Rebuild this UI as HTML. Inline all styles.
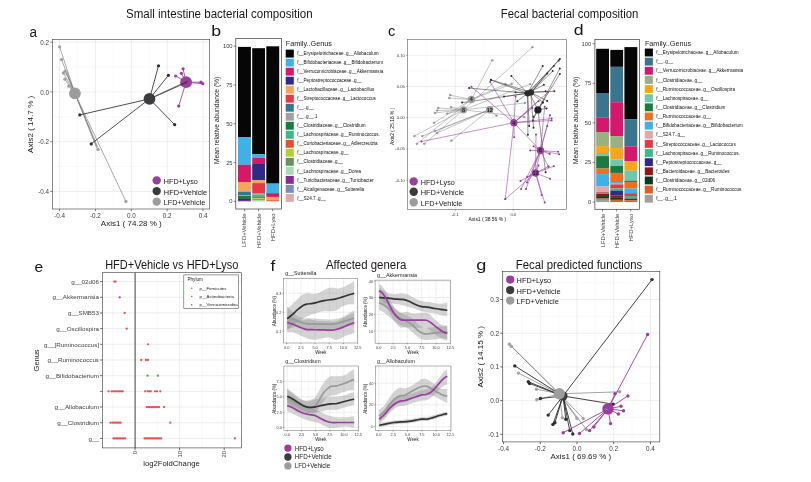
<!DOCTYPE html>
<html lang="en"><head><meta charset="utf-8"><title>Figure</title>
<style>html,body{margin:0;padding:0;background:#fff;}svg{display:block;}text{font-family:"Liberation Sans",Arial,sans-serif;}</style></head>
<body>
<svg width="811" height="482" viewBox="0 0 811 482" font-family="'Liberation Sans', Arial, sans-serif">
<rect x="0.00" y="0.00" width="811.00" height="482.00" fill="#ffffff"/>
<text x="126.00" y="17.50" font-size="12" fill="#1a1617" textLength="186.60" lengthAdjust="spacingAndGlyphs">Small intestine bacterial composition</text>
<text x="500.80" y="17.50" font-size="12" fill="#1a1617" textLength="137.60" lengthAdjust="spacingAndGlyphs">Fecal bacterial composition</text>
<text x="105.20" y="268.60" font-size="12" fill="#1a1617" textLength="133.20" lengthAdjust="spacingAndGlyphs">HFD+Vehicle vs HFD+Lyso</text>
<text x="325.90" y="269.00" font-size="12" fill="#1a1617" textLength="80.40" lengthAdjust="spacingAndGlyphs">Affected genera</text>
<text x="515.80" y="268.50" font-size="12" fill="#1a1617" textLength="126.40" lengthAdjust="spacingAndGlyphs">Fecal predicted functions</text>
<text transform="translate(29.60 37.00) scale(0.87 1)" font-size="15.5" fill="#1a1617">a</text>
<text transform="translate(211.20 36.30) scale(1.14 1)" font-size="15.5" fill="#1a1617">b</text>
<text transform="translate(388.00 36.00) scale(0.95 1)" font-size="15.5" fill="#1a1617">c</text>
<text transform="translate(573.80 34.90) scale(1.14 1)" font-size="15.5" fill="#1a1617">d</text>
<text transform="translate(34.50 272.00) scale(1.0 1)" font-size="15.5" fill="#1a1617">e</text>
<text transform="translate(270.40 271.00) scale(1.1 1)" font-size="15.5" fill="#1a1617">f</text>
<text transform="translate(476.30 269.50) scale(1.17 1)" font-size="15.5" fill="#1a1617">g</text>
<rect x="52.40" y="39.40" width="157.30" height="169.60" fill="#ffffff"/>
<line x1="77.48" y1="39.40" x2="77.48" y2="209.00" stroke="#efefef" stroke-width="0.4"/>
<line x1="113.36" y1="39.40" x2="113.36" y2="209.00" stroke="#efefef" stroke-width="0.4"/>
<line x1="149.24" y1="39.40" x2="149.24" y2="209.00" stroke="#efefef" stroke-width="0.4"/>
<line x1="185.12" y1="39.40" x2="185.12" y2="209.00" stroke="#efefef" stroke-width="0.4"/>
<line x1="52.40" y1="67.00" x2="209.70" y2="67.00" stroke="#efefef" stroke-width="0.4"/>
<line x1="52.40" y1="116.80" x2="209.70" y2="116.80" stroke="#efefef" stroke-width="0.4"/>
<line x1="52.40" y1="166.60" x2="209.70" y2="166.60" stroke="#efefef" stroke-width="0.4"/>
<line x1="59.54" y1="39.40" x2="59.54" y2="209.00" stroke="#e3e3e3" stroke-width="0.6"/>
<line x1="95.42" y1="39.40" x2="95.42" y2="209.00" stroke="#e3e3e3" stroke-width="0.6"/>
<line x1="131.30" y1="39.40" x2="131.30" y2="209.00" stroke="#e3e3e3" stroke-width="0.6"/>
<line x1="167.18" y1="39.40" x2="167.18" y2="209.00" stroke="#e3e3e3" stroke-width="0.6"/>
<line x1="203.06" y1="39.40" x2="203.06" y2="209.00" stroke="#e3e3e3" stroke-width="0.6"/>
<line x1="52.40" y1="42.10" x2="209.70" y2="42.10" stroke="#e3e3e3" stroke-width="0.6"/>
<line x1="52.40" y1="91.90" x2="209.70" y2="91.90" stroke="#e3e3e3" stroke-width="0.6"/>
<line x1="52.40" y1="141.70" x2="209.70" y2="141.70" stroke="#e3e3e3" stroke-width="0.6"/>
<line x1="52.40" y1="191.50" x2="209.70" y2="191.50" stroke="#e3e3e3" stroke-width="0.6"/>
<g stroke-linecap="round">
<line x1="74.90" y1="93.30" x2="59.60" y2="46.80" stroke="#7a7a7a" stroke-width="0.65"/>
<line x1="74.90" y1="93.30" x2="61.50" y2="59.60" stroke="#7a7a7a" stroke-width="0.65"/>
<line x1="74.90" y1="93.30" x2="65.20" y2="71.10" stroke="#7a7a7a" stroke-width="0.65"/>
<line x1="74.90" y1="93.30" x2="63.40" y2="73.00" stroke="#7a7a7a" stroke-width="0.65"/>
<line x1="74.90" y1="93.30" x2="67.20" y2="73.90" stroke="#7a7a7a" stroke-width="0.65"/>
<line x1="74.90" y1="93.30" x2="64.90" y2="79.20" stroke="#7a7a7a" stroke-width="0.65"/>
<line x1="74.90" y1="93.30" x2="68.70" y2="86.10" stroke="#7a7a7a" stroke-width="0.65"/>
<line x1="74.90" y1="93.30" x2="98.00" y2="149.40" stroke="#7a7a7a" stroke-width="0.65"/>
<line x1="74.90" y1="93.30" x2="125.90" y2="201.40" stroke="#7a7a7a" stroke-width="0.65"/>
<line x1="74.90" y1="93.30" x2="96.50" y2="147.50" stroke="#7a7a7a" stroke-width="0.65"/>
<line x1="74.90" y1="93.30" x2="97.20" y2="146.00" stroke="#7a7a7a" stroke-width="0.65"/>
<circle cx="59.60" cy="46.80" r="1.65" fill="#a0a0a0"/>
<circle cx="61.50" cy="59.60" r="1.65" fill="#a0a0a0"/>
<circle cx="65.20" cy="71.10" r="1.65" fill="#a0a0a0"/>
<circle cx="63.40" cy="73.00" r="1.65" fill="#a0a0a0"/>
<circle cx="67.20" cy="73.90" r="1.65" fill="#a0a0a0"/>
<circle cx="64.90" cy="79.20" r="1.65" fill="#a0a0a0"/>
<circle cx="68.70" cy="86.10" r="1.65" fill="#a0a0a0"/>
<circle cx="98.00" cy="149.40" r="1.65" fill="#a0a0a0"/>
<circle cx="125.90" cy="201.40" r="1.65" fill="#a0a0a0"/>
<line x1="149.50" y1="98.90" x2="158.50" y2="65.80" stroke="#2e2e30" stroke-width="0.85"/>
<line x1="149.50" y1="98.90" x2="168.40" y2="75.30" stroke="#2e2e30" stroke-width="0.85"/>
<line x1="149.50" y1="98.90" x2="79.80" y2="114.90" stroke="#2e2e30" stroke-width="0.85"/>
<line x1="149.50" y1="98.90" x2="174.70" y2="124.70" stroke="#2e2e30" stroke-width="0.85"/>
<line x1="149.50" y1="98.90" x2="91.20" y2="143.90" stroke="#2e2e30" stroke-width="0.85"/>
<circle cx="158.50" cy="65.80" r="1.6" fill="#2e2e30"/>
<circle cx="168.40" cy="75.30" r="1.6" fill="#2e2e30"/>
<circle cx="79.80" cy="114.90" r="1.6" fill="#2e2e30"/>
<circle cx="174.70" cy="124.70" r="1.6" fill="#2e2e30"/>
<circle cx="91.20" cy="143.90" r="1.6" fill="#2e2e30"/>
<line x1="186.10" y1="82.20" x2="183.10" y2="68.80" stroke="#9a3d9f" stroke-width="0.85"/>
<line x1="186.10" y1="82.20" x2="175.70" y2="76.00" stroke="#9a3d9f" stroke-width="0.85"/>
<line x1="186.10" y1="82.20" x2="181.40" y2="73.30" stroke="#9a3d9f" stroke-width="0.85"/>
<line x1="186.10" y1="82.20" x2="201.00" y2="82.20" stroke="#9a3d9f" stroke-width="0.85"/>
<line x1="186.10" y1="82.20" x2="202.80" y2="83.70" stroke="#9a3d9f" stroke-width="0.85"/>
<line x1="186.10" y1="82.20" x2="178.70" y2="106.10" stroke="#9a3d9f" stroke-width="0.85"/>
<circle cx="183.10" cy="68.80" r="1.6" fill="#9a3d9f"/>
<circle cx="175.70" cy="76.00" r="1.6" fill="#9a3d9f"/>
<circle cx="181.40" cy="73.30" r="1.6" fill="#9a3d9f"/>
<circle cx="201.00" cy="82.20" r="1.6" fill="#9a3d9f"/>
<circle cx="202.80" cy="83.70" r="1.6" fill="#9a3d9f"/>
<circle cx="178.70" cy="106.10" r="1.6" fill="#9a3d9f"/>
</g>
<circle cx="74.90" cy="93.30" r="5.9" fill="#9c9c9c"/>
<circle cx="186.10" cy="82.20" r="5.9" fill="#9a3d9f"/>
<line x1="149.50" y1="98.90" x2="187.90" y2="80.90" stroke="#2e2e30" stroke-width="0.7"/>
<line x1="149.50" y1="98.90" x2="187.20" y2="82.40" stroke="#2e2e30" stroke-width="0.7"/>
<circle cx="149.50" cy="98.90" r="5.9" fill="#3b3b3d"/>
<rect x="52.40" y="39.40" width="157.30" height="169.60" fill="none" stroke="#3a3a3a" stroke-width="0.6"/>
<line x1="59.54" y1="209.00" x2="59.54" y2="211.20" stroke="#333" stroke-width="0.6"/>
<text x="59.54" y="218.20" font-size="6.3" fill="#3c3c3c" text-anchor="middle">-0.4</text>
<line x1="95.42" y1="209.00" x2="95.42" y2="211.20" stroke="#333" stroke-width="0.6"/>
<text x="95.42" y="218.20" font-size="6.3" fill="#3c3c3c" text-anchor="middle">-0.2</text>
<line x1="131.30" y1="209.00" x2="131.30" y2="211.20" stroke="#333" stroke-width="0.6"/>
<text x="131.30" y="218.20" font-size="6.3" fill="#3c3c3c" text-anchor="middle">0.0</text>
<line x1="167.18" y1="209.00" x2="167.18" y2="211.20" stroke="#333" stroke-width="0.6"/>
<text x="167.18" y="218.20" font-size="6.3" fill="#3c3c3c" text-anchor="middle">0.2</text>
<line x1="203.06" y1="209.00" x2="203.06" y2="211.20" stroke="#333" stroke-width="0.6"/>
<text x="203.06" y="218.20" font-size="6.3" fill="#3c3c3c" text-anchor="middle">0.4</text>
<line x1="50.20" y1="42.10" x2="52.40" y2="42.10" stroke="#333" stroke-width="0.6"/>
<text x="49.00" y="44.70" font-size="6.3" fill="#3c3c3c" text-anchor="end">0.2</text>
<line x1="50.20" y1="91.90" x2="52.40" y2="91.90" stroke="#333" stroke-width="0.6"/>
<text x="49.00" y="94.50" font-size="6.3" fill="#3c3c3c" text-anchor="end">0.0</text>
<line x1="50.20" y1="141.70" x2="52.40" y2="141.70" stroke="#333" stroke-width="0.6"/>
<text x="49.00" y="144.30" font-size="6.3" fill="#3c3c3c" text-anchor="end">-0.2</text>
<line x1="50.20" y1="191.50" x2="52.40" y2="191.50" stroke="#333" stroke-width="0.6"/>
<text x="49.00" y="194.10" font-size="6.3" fill="#3c3c3c" text-anchor="end">-0.4</text>
<text x="131.30" y="226.10" font-size="8.0" fill="#1a1a1a" text-anchor="middle" textLength="61.00" lengthAdjust="spacingAndGlyphs">Axis1 ( 74.28 % )</text>
<text x="33.50" y="124.30" font-size="8.0" fill="#1a1a1a" text-anchor="middle" textLength="57.20" lengthAdjust="spacingAndGlyphs" transform="rotate(-90 33.50 124.30)">Axis2 ( 14.7 % )</text>
<circle cx="156.70" cy="180.40" r="4.2" fill="#9a3d9f"/>
<text x="163.80" y="183.80" font-size="7.7" fill="#1a1617" textLength="34.00" lengthAdjust="spacingAndGlyphs">HFD+Lyso</text>
<circle cx="156.70" cy="191.10" r="4.2" fill="#3b3b3d"/>
<text x="163.80" y="194.50" font-size="7.7" fill="#1a1617" textLength="43.30" lengthAdjust="spacingAndGlyphs">HFD+Vehicle</text>
<circle cx="156.70" cy="201.60" r="4.2" fill="#9c9c9c"/>
<text x="163.80" y="205.00" font-size="7.7" fill="#1a1617" textLength="41.50" lengthAdjust="spacingAndGlyphs">LFD+Vehicle</text>
<rect x="235.80" y="38.60" width="45.80" height="170.40" fill="#fff"/>
<rect x="238.00" y="46.90" width="12.90" height="90.15" fill="#060606"/>
<rect x="238.00" y="137.00" width="12.90" height="27.75" fill="#41b0e4"/>
<rect x="238.00" y="164.70" width="12.90" height="17.35" fill="#d4186c"/>
<rect x="238.00" y="182.00" width="12.90" height="9.75" fill="#f9a45c"/>
<rect x="238.00" y="191.70" width="12.90" height="3.45" fill="#3a7590"/>
<rect x="238.00" y="195.10" width="12.90" height="0.95" fill="#a0a0a0"/>
<rect x="238.00" y="196.00" width="12.90" height="2.95" fill="#1b7a3e"/>
<rect x="238.00" y="198.90" width="12.90" height="1.05" fill="#0a3a1e"/>
<rect x="238.00" y="199.90" width="12.90" height="1.15" fill="#8a2a8e"/>
<rect x="238.00" y="201.00" width="12.90" height="0.45" fill="#7a8cc0"/>
<rect x="252.20" y="48.20" width="12.80" height="106.05" fill="#060606"/>
<rect x="252.20" y="154.20" width="12.80" height="3.55" fill="#41b0e4"/>
<rect x="252.20" y="157.70" width="12.80" height="6.35" fill="#d4186c"/>
<rect x="252.20" y="164.00" width="12.80" height="16.35" fill="#2e2a85"/>
<rect x="252.20" y="180.30" width="12.80" height="2.85" fill="#f9a45c"/>
<rect x="252.20" y="183.10" width="12.80" height="10.55" fill="#e63946"/>
<rect x="252.20" y="193.60" width="12.80" height="0.85" fill="#a0a0a0"/>
<rect x="252.20" y="194.40" width="12.80" height="2.55" fill="#3cb98c"/>
<rect x="252.20" y="196.90" width="12.80" height="1.35" fill="#e8502a"/>
<rect x="252.20" y="198.20" width="12.80" height="1.05" fill="#b5cf2f"/>
<rect x="252.20" y="199.20" width="12.80" height="1.25" fill="#6a9060"/>
<rect x="252.20" y="200.40" width="12.80" height="1.05" fill="#a8dcb4"/>
<rect x="266.30" y="46.30" width="12.90" height="137.35" fill="#060606"/>
<rect x="266.30" y="183.60" width="12.90" height="9.65" fill="#41b0e4"/>
<rect x="266.30" y="193.20" width="12.90" height="3.75" fill="#d4186c"/>
<rect x="266.30" y="196.90" width="12.90" height="3.35" fill="#f9a45c"/>
<rect x="266.30" y="200.20" width="12.90" height="0.75" fill="#e63946"/>
<rect x="266.30" y="200.90" width="12.90" height="0.55" fill="#b5cf2f"/>
<rect x="235.80" y="38.60" width="45.80" height="170.40" fill="none" stroke="#3a3a3a" stroke-width="0.7"/>
<line x1="233.60" y1="201.40" x2="235.80" y2="201.40" stroke="#333" stroke-width="0.6"/>
<text x="232.60" y="203.45" font-size="5.8" fill="#3c3c3c" text-anchor="end">0</text>
<line x1="233.60" y1="162.58" x2="235.80" y2="162.58" stroke="#333" stroke-width="0.6"/>
<text x="232.60" y="164.63" font-size="5.8" fill="#3c3c3c" text-anchor="end">25</text>
<line x1="233.60" y1="123.75" x2="235.80" y2="123.75" stroke="#333" stroke-width="0.6"/>
<text x="232.60" y="125.80" font-size="5.8" fill="#3c3c3c" text-anchor="end">50</text>
<line x1="233.60" y1="84.93" x2="235.80" y2="84.93" stroke="#333" stroke-width="0.6"/>
<text x="232.60" y="86.98" font-size="5.8" fill="#3c3c3c" text-anchor="end">75</text>
<line x1="233.60" y1="46.10" x2="235.80" y2="46.10" stroke="#333" stroke-width="0.6"/>
<text x="232.60" y="48.15" font-size="5.8" fill="#3c3c3c" text-anchor="end">100</text>
<text x="219.30" y="120.40" font-size="6.8" fill="#1a1a1a" text-anchor="middle" textLength="87.40" lengthAdjust="spacingAndGlyphs" transform="rotate(-90 219.30 120.40)">Mean relative abundance (%)</text>
<line x1="244.40" y1="209.00" x2="244.40" y2="211.20" stroke="#333" stroke-width="0.6"/>
<text x="246.50" y="213.40" font-size="5.9" fill="#3c3c3c" text-anchor="end" transform="rotate(-90 246.50 213.40)">LFD+Vehicle</text>
<line x1="258.60" y1="209.00" x2="258.60" y2="211.20" stroke="#333" stroke-width="0.6"/>
<text x="260.70" y="213.40" font-size="5.9" fill="#3c3c3c" text-anchor="end" transform="rotate(-90 260.70 213.40)">HFD+Vehicle</text>
<line x1="272.70" y1="209.00" x2="272.70" y2="211.20" stroke="#333" stroke-width="0.6"/>
<text x="274.80" y="213.40" font-size="5.9" fill="#3c3c3c" text-anchor="end" transform="rotate(-90 274.80 213.40)">HFD+Lyso</text>
<text x="285.70" y="46.00" font-size="7.6" fill="#1a1617" textLength="46.30" lengthAdjust="spacingAndGlyphs">Family..Genus</text>
<rect x="285.70" y="49.65" width="8.10" height="7.90" fill="#060606"/>
<text x="297.20" y="55.25" font-size="4.59" fill="#0c0c0c">f__Erysipelotrichaceae..g__Allobaculum</text>
<rect x="285.70" y="58.67" width="8.10" height="7.90" fill="#41b0e4"/>
<text x="297.20" y="64.27" font-size="4.59" fill="#0c0c0c">f__Bifidobacteriaceae..g__Bifidobacterium</text>
<rect x="285.70" y="67.69" width="8.10" height="7.90" fill="#d4186c"/>
<text x="297.20" y="73.29" font-size="4.59" fill="#0c0c0c">f__Verrucomicrobiaceae..g__Akkermansia</text>
<rect x="285.70" y="76.71" width="8.10" height="7.90" fill="#2e2a85"/>
<text x="297.20" y="82.31" font-size="4.59" fill="#0c0c0c">f__Peptostreptococcaceae..g__</text>
<rect x="285.70" y="85.73" width="8.10" height="7.90" fill="#f9a45c"/>
<text x="297.20" y="91.33" font-size="4.59" fill="#0c0c0c">f__Lactobacillaceae..g__Lactobacillus</text>
<rect x="285.70" y="94.75" width="8.10" height="7.90" fill="#e63946"/>
<text x="297.20" y="100.35" font-size="4.59" fill="#0c0c0c">f__Streptococcaceae..g__Lactococcus</text>
<rect x="285.70" y="103.77" width="8.10" height="7.90" fill="#3a7590"/>
<text x="297.20" y="109.37" font-size="4.59" fill="#0c0c0c">f__..g__</text>
<rect x="285.70" y="112.79" width="8.10" height="7.90" fill="#a0a0a0"/>
<text x="297.20" y="118.39" font-size="4.59" fill="#0c0c0c">f__..g__.1</text>
<rect x="285.70" y="121.81" width="8.10" height="7.90" fill="#1b7a3e"/>
<text x="297.20" y="127.41" font-size="4.59" fill="#0c0c0c">f__Clostridiaceae..g__Clostridium</text>
<rect x="285.70" y="130.83" width="8.10" height="7.90" fill="#3cb98c"/>
<text x="297.20" y="136.43" font-size="4.59" fill="#0c0c0c">f__Lachnospiraceae..g__Ruminococcus.</text>
<rect x="285.70" y="139.85" width="8.10" height="7.90" fill="#e8502a"/>
<text x="297.20" y="145.45" font-size="4.59" fill="#0c0c0c">f__Coriobacteriaceae..g__Adlercreutzia</text>
<rect x="285.70" y="148.87" width="8.10" height="7.90" fill="#b5cf2f"/>
<text x="297.20" y="154.47" font-size="4.59" fill="#0c0c0c">f__Lachnospiraceae..g__</text>
<rect x="285.70" y="157.89" width="8.10" height="7.90" fill="#6a9060"/>
<text x="297.20" y="163.49" font-size="4.59" fill="#0c0c0c">f__Clostridiaceae..g__</text>
<rect x="285.70" y="166.91" width="8.10" height="7.90" fill="#a8dcb4"/>
<text x="297.20" y="172.51" font-size="4.59" fill="#0c0c0c">f__Lachnospiraceae..g__Dorea</text>
<rect x="285.70" y="175.93" width="8.10" height="7.90" fill="#8a2a8e"/>
<text x="297.20" y="181.53" font-size="4.59" fill="#0c0c0c">f__Turicibacteraceae..g__Turicibacter</text>
<rect x="285.70" y="184.95" width="8.10" height="7.90" fill="#7a8cc0"/>
<text x="297.20" y="190.55" font-size="4.59" fill="#0c0c0c">f__Alcaligenaceae..g__Sutterella</text>
<rect x="285.70" y="193.97" width="8.10" height="7.90" fill="#e0a8a8"/>
<text x="297.20" y="199.57" font-size="4.59" fill="#0c0c0c">f__S24.7..g__</text>
<rect x="594.90" y="39.60" width="44.50" height="169.70" fill="#fff"/>
<rect x="596.20" y="48.80" width="12.80" height="44.25" fill="#060606"/>
<rect x="596.20" y="93.00" width="12.80" height="24.75" fill="#3a7590"/>
<rect x="596.20" y="117.70" width="12.80" height="14.35" fill="#d4186c"/>
<rect x="596.20" y="132.00" width="12.80" height="14.15" fill="#9bb07e"/>
<rect x="596.20" y="146.10" width="12.80" height="6.95" fill="#f9a51a"/>
<rect x="596.20" y="153.00" width="12.80" height="3.15" fill="#6fc8ac"/>
<rect x="596.20" y="156.10" width="12.80" height="12.45" fill="#1b7a3e"/>
<rect x="596.20" y="168.50" width="12.80" height="5.65" fill="#f07020"/>
<rect x="596.20" y="174.10" width="12.80" height="12.45" fill="#41b0e4"/>
<rect x="596.20" y="186.50" width="12.80" height="5.55" fill="#e0a8a8"/>
<rect x="596.20" y="192.00" width="12.80" height="0.85" fill="#e63946"/>
<rect x="596.20" y="192.80" width="12.80" height="1.25" fill="#3cb98c"/>
<rect x="596.20" y="194.00" width="12.80" height="2.15" fill="#8a1a1a"/>
<rect x="596.20" y="196.10" width="12.80" height="2.45" fill="#0a3a1e"/>
<rect x="596.20" y="198.50" width="12.80" height="1.35" fill="#d8602a"/>
<rect x="596.20" y="199.80" width="12.80" height="2.25" fill="#a0a0a0"/>
<rect x="610.30" y="49.90" width="12.80" height="16.95" fill="#060606"/>
<rect x="610.30" y="66.80" width="12.80" height="35.45" fill="#3a7590"/>
<rect x="610.30" y="102.20" width="12.80" height="33.95" fill="#d4186c"/>
<rect x="610.30" y="136.10" width="12.80" height="12.05" fill="#9bb07e"/>
<rect x="610.30" y="148.10" width="12.80" height="11.35" fill="#f9a51a"/>
<rect x="610.30" y="159.40" width="12.80" height="6.65" fill="#6fc8ac"/>
<rect x="610.30" y="166.00" width="12.80" height="6.95" fill="#1b7a3e"/>
<rect x="610.30" y="172.90" width="12.80" height="9.15" fill="#f07020"/>
<rect x="610.30" y="182.00" width="12.80" height="1.75" fill="#41b0e4"/>
<rect x="610.30" y="183.70" width="12.80" height="0.75" fill="#e0a8a8"/>
<rect x="610.30" y="184.40" width="12.80" height="4.15" fill="#e63946"/>
<rect x="610.30" y="188.50" width="12.80" height="2.25" fill="#3cb98c"/>
<rect x="610.30" y="190.70" width="12.80" height="4.95" fill="#2e2a85"/>
<rect x="610.30" y="195.60" width="12.80" height="2.25" fill="#8a1a1a"/>
<rect x="610.30" y="197.80" width="12.80" height="2.05" fill="#0a3a1e"/>
<rect x="610.30" y="199.80" width="12.80" height="2.25" fill="#d8602a"/>
<rect x="624.40" y="47.10" width="12.90" height="72.35" fill="#060606"/>
<rect x="624.40" y="119.40" width="12.90" height="27.05" fill="#3a7590"/>
<rect x="624.40" y="146.40" width="12.90" height="14.85" fill="#d4186c"/>
<rect x="624.40" y="161.20" width="12.90" height="9.55" fill="#f9a51a"/>
<rect x="624.40" y="170.70" width="12.90" height="10.05" fill="#6fc8ac"/>
<rect x="624.40" y="180.70" width="12.90" height="1.25" fill="#1b7a3e"/>
<rect x="624.40" y="181.90" width="12.90" height="6.65" fill="#f07020"/>
<rect x="624.40" y="188.50" width="12.90" height="4.75" fill="#41b0e4"/>
<rect x="624.40" y="193.20" width="12.90" height="2.85" fill="#e63946"/>
<rect x="624.40" y="196.00" width="12.90" height="2.65" fill="#3cb98c"/>
<rect x="624.40" y="198.60" width="12.90" height="1.75" fill="#8a1a1a"/>
<rect x="624.40" y="200.30" width="12.90" height="1.75" fill="#d8602a"/>
<rect x="594.90" y="39.60" width="44.50" height="169.70" fill="none" stroke="#3a3a3a" stroke-width="0.7"/>
<line x1="592.70" y1="202.00" x2="594.90" y2="202.00" stroke="#333" stroke-width="0.6"/>
<text x="591.20" y="204.05" font-size="5.8" fill="#3c3c3c" text-anchor="end">0</text>
<line x1="592.70" y1="162.43" x2="594.90" y2="162.43" stroke="#333" stroke-width="0.6"/>
<text x="591.20" y="164.48" font-size="5.8" fill="#3c3c3c" text-anchor="end">25</text>
<line x1="592.70" y1="122.85" x2="594.90" y2="122.85" stroke="#333" stroke-width="0.6"/>
<text x="591.20" y="124.90" font-size="5.8" fill="#3c3c3c" text-anchor="end">50</text>
<line x1="592.70" y1="83.28" x2="594.90" y2="83.28" stroke="#333" stroke-width="0.6"/>
<text x="591.20" y="85.33" font-size="5.8" fill="#3c3c3c" text-anchor="end">75</text>
<line x1="592.70" y1="43.70" x2="594.90" y2="43.70" stroke="#333" stroke-width="0.6"/>
<text x="591.20" y="45.75" font-size="5.8" fill="#3c3c3c" text-anchor="end">100</text>
<text x="578.20" y="120.40" font-size="6.8" fill="#1a1a1a" text-anchor="middle" textLength="87.40" lengthAdjust="spacingAndGlyphs" transform="rotate(-90 578.20 120.40)">Mean relative abundance (%)</text>
<line x1="602.50" y1="209.30" x2="602.50" y2="211.50" stroke="#333" stroke-width="0.6"/>
<text x="604.60" y="213.70" font-size="5.9" fill="#3c3c3c" text-anchor="end" transform="rotate(-90 604.60 213.70)">LFD+Vehicle</text>
<line x1="616.60" y1="209.30" x2="616.60" y2="211.50" stroke="#333" stroke-width="0.6"/>
<text x="618.70" y="213.70" font-size="5.9" fill="#3c3c3c" text-anchor="end" transform="rotate(-90 618.70 213.70)">HFD+Vehicle</text>
<line x1="630.80" y1="209.30" x2="630.80" y2="211.50" stroke="#333" stroke-width="0.6"/>
<text x="632.90" y="213.70" font-size="5.9" fill="#3c3c3c" text-anchor="end" transform="rotate(-90 632.90 213.70)">HFD+Lyso</text>
<text x="644.90" y="46.20" font-size="7.6" fill="#1a1617" textLength="46.30" lengthAdjust="spacingAndGlyphs">Family..Genus</text>
<rect x="644.80" y="48.55" width="8.10" height="7.90" fill="#060606"/>
<text x="656.30" y="54.17" font-size="4.64" fill="#0c0c0c">f__Erysipelotrichaceae..g__Allobaculum</text>
<rect x="644.80" y="57.69" width="8.10" height="7.90" fill="#3a7590"/>
<text x="656.30" y="63.31" font-size="4.64" fill="#0c0c0c">f__..g__</text>
<rect x="644.80" y="66.83" width="8.10" height="7.90" fill="#d4186c"/>
<text x="656.30" y="72.45" font-size="4.64" fill="#0c0c0c">f__Verrucomicrobiaceae..g__Akkermansia</text>
<rect x="644.80" y="75.97" width="8.10" height="7.90" fill="#9bb07e"/>
<text x="656.30" y="81.59" font-size="4.64" fill="#0c0c0c">f__Clostridiaceae..g__</text>
<rect x="644.80" y="85.11" width="8.10" height="7.90" fill="#f9a51a"/>
<text x="656.30" y="90.73" font-size="4.64" fill="#0c0c0c">f__Ruminococcaceae..g__Oscillospira</text>
<rect x="644.80" y="94.25" width="8.10" height="7.90" fill="#6fc8ac"/>
<text x="656.30" y="99.87" font-size="4.64" fill="#0c0c0c">f__Lachnospiraceae..g__</text>
<rect x="644.80" y="103.39" width="8.10" height="7.90" fill="#1b7a3e"/>
<text x="656.30" y="109.01" font-size="4.64" fill="#0c0c0c">f__Clostridiaceae..g__Clostridium</text>
<rect x="644.80" y="112.53" width="8.10" height="7.90" fill="#f07020"/>
<text x="656.30" y="118.15" font-size="4.64" fill="#0c0c0c">f__Ruminococcaceae..g__</text>
<rect x="644.80" y="121.67" width="8.10" height="7.90" fill="#41b0e4"/>
<text x="656.30" y="127.29" font-size="4.64" fill="#0c0c0c">f__Bifidobacteriaceae..g__Bifidobacterium</text>
<rect x="644.80" y="130.81" width="8.10" height="7.90" fill="#e0a8a8"/>
<text x="656.30" y="136.43" font-size="4.64" fill="#0c0c0c">f__S24.7..g__</text>
<rect x="644.80" y="139.95" width="8.10" height="7.90" fill="#e63946"/>
<text x="656.30" y="145.57" font-size="4.64" fill="#0c0c0c">f__Streptococcaceae..g__Lactococcus</text>
<rect x="644.80" y="149.09" width="8.10" height="7.90" fill="#3cb98c"/>
<text x="656.30" y="154.71" font-size="4.64" fill="#0c0c0c">f__Lachnospiraceae..g__Ruminococcus.</text>
<rect x="644.80" y="158.23" width="8.10" height="7.90" fill="#2e2a85"/>
<text x="656.30" y="163.85" font-size="4.64" fill="#0c0c0c">f__Peptostreptococcaceae..g__</text>
<rect x="644.80" y="167.37" width="8.10" height="7.90" fill="#8a1a1a"/>
<text x="656.30" y="172.99" font-size="4.64" fill="#0c0c0c">f__Bacteroidaceae..g__Bacteroides</text>
<rect x="644.80" y="176.51" width="8.10" height="7.90" fill="#0a3a1e"/>
<text x="656.30" y="182.13" font-size="4.64" fill="#0c0c0c">f__Clostridiaceae..g__02d06</text>
<rect x="644.80" y="185.65" width="8.10" height="7.90" fill="#d8602a"/>
<text x="656.30" y="191.27" font-size="4.64" fill="#0c0c0c">f__Ruminococcaceae..g__Ruminococcus</text>
<rect x="644.80" y="194.79" width="8.10" height="7.90" fill="#a0a0a0"/>
<text x="656.30" y="200.41" font-size="4.64" fill="#0c0c0c">f__..g__.1</text>
<rect x="407.50" y="39.30" width="158.90" height="170.30" fill="#ffffff"/>
<line x1="426.30" y1="39.30" x2="426.30" y2="209.60" stroke="#efefef" stroke-width="0.4"/>
<line x1="484.30" y1="39.30" x2="484.30" y2="209.60" stroke="#efefef" stroke-width="0.4"/>
<line x1="542.30" y1="39.30" x2="542.30" y2="209.60" stroke="#efefef" stroke-width="0.4"/>
<line x1="407.50" y1="70.90" x2="566.40" y2="70.90" stroke="#efefef" stroke-width="0.4"/>
<line x1="407.50" y1="102.10" x2="566.40" y2="102.10" stroke="#efefef" stroke-width="0.4"/>
<line x1="407.50" y1="133.30" x2="566.40" y2="133.30" stroke="#efefef" stroke-width="0.4"/>
<line x1="407.50" y1="164.50" x2="566.40" y2="164.50" stroke="#efefef" stroke-width="0.4"/>
<line x1="407.50" y1="195.70" x2="566.40" y2="195.70" stroke="#efefef" stroke-width="0.4"/>
<line x1="455.30" y1="39.30" x2="455.30" y2="209.60" stroke="#e3e3e3" stroke-width="0.6"/>
<line x1="513.30" y1="39.30" x2="513.30" y2="209.60" stroke="#e3e3e3" stroke-width="0.6"/>
<line x1="407.50" y1="55.30" x2="566.40" y2="55.30" stroke="#e3e3e3" stroke-width="0.6"/>
<line x1="407.50" y1="86.50" x2="566.40" y2="86.50" stroke="#e3e3e3" stroke-width="0.6"/>
<line x1="407.50" y1="117.70" x2="566.40" y2="117.70" stroke="#e3e3e3" stroke-width="0.6"/>
<line x1="407.50" y1="148.90" x2="566.40" y2="148.90" stroke="#e3e3e3" stroke-width="0.6"/>
<line x1="407.50" y1="180.10" x2="566.40" y2="180.10" stroke="#e3e3e3" stroke-width="0.6"/>
<g stroke-linecap="round">
<line x1="471.40" y1="99.50" x2="450.10" y2="95.10" stroke="#7d7d7d" stroke-width="0.45"/>
<line x1="471.40" y1="99.50" x2="449.10" y2="98.00" stroke="#7d7d7d" stroke-width="0.45"/>
<line x1="471.40" y1="99.50" x2="492.10" y2="60.30" stroke="#7d7d7d" stroke-width="0.45"/>
<line x1="471.40" y1="99.50" x2="433.90" y2="122.80" stroke="#7d7d7d" stroke-width="0.45"/>
<line x1="471.40" y1="99.50" x2="416.80" y2="143.80" stroke="#7d7d7d" stroke-width="0.45"/>
<line x1="471.40" y1="99.50" x2="505.50" y2="84.20" stroke="#7d7d7d" stroke-width="0.45"/>
<line x1="471.40" y1="99.50" x2="511.50" y2="83.90" stroke="#7d7d7d" stroke-width="0.45"/>
<line x1="463.50" y1="109.80" x2="438.10" y2="108.00" stroke="#7d7d7d" stroke-width="0.45"/>
<line x1="463.50" y1="109.80" x2="437.10" y2="110.50" stroke="#7d7d7d" stroke-width="0.45"/>
<line x1="463.50" y1="109.80" x2="434.90" y2="112.90" stroke="#7d7d7d" stroke-width="0.45"/>
<line x1="463.50" y1="109.80" x2="450.80" y2="107.10" stroke="#7d7d7d" stroke-width="0.45"/>
<line x1="463.50" y1="109.80" x2="447.10" y2="113.60" stroke="#7d7d7d" stroke-width="0.45"/>
<line x1="463.50" y1="109.80" x2="414.30" y2="136.10" stroke="#7d7d7d" stroke-width="0.45"/>
<line x1="463.50" y1="109.80" x2="424.30" y2="143.80" stroke="#7d7d7d" stroke-width="0.45"/>
<line x1="463.50" y1="109.80" x2="532.30" y2="47.20" stroke="#7d7d7d" stroke-width="0.45"/>
<line x1="463.50" y1="109.80" x2="530.00" y2="84.20" stroke="#7d7d7d" stroke-width="0.45"/>
<line x1="463.50" y1="109.80" x2="524.80" y2="103.00" stroke="#7d7d7d" stroke-width="0.45"/>
<line x1="463.50" y1="109.80" x2="524.20" y2="117.10" stroke="#7d7d7d" stroke-width="0.45"/>
<line x1="489.70" y1="109.60" x2="422.20" y2="136.10" stroke="#7d7d7d" stroke-width="0.45"/>
<line x1="489.70" y1="109.60" x2="434.90" y2="131.10" stroke="#7d7d7d" stroke-width="0.45"/>
<line x1="489.70" y1="109.60" x2="437.10" y2="133.00" stroke="#7d7d7d" stroke-width="0.45"/>
<line x1="489.70" y1="109.60" x2="451.30" y2="140.70" stroke="#7d7d7d" stroke-width="0.45"/>
<line x1="489.70" y1="109.60" x2="496.40" y2="115.70" stroke="#7d7d7d" stroke-width="0.45"/>
<circle cx="450.10" cy="95.10" r="0.9" fill="#b5b5b5" stroke="#6f6f6f" stroke-width="0.4"/>
<circle cx="449.10" cy="98.00" r="0.9" fill="#b5b5b5" stroke="#6f6f6f" stroke-width="0.4"/>
<circle cx="492.10" cy="60.30" r="0.9" fill="#b5b5b5" stroke="#6f6f6f" stroke-width="0.4"/>
<circle cx="433.90" cy="122.80" r="0.9" fill="#b5b5b5" stroke="#6f6f6f" stroke-width="0.4"/>
<circle cx="416.80" cy="143.80" r="0.9" fill="#b5b5b5" stroke="#6f6f6f" stroke-width="0.4"/>
<circle cx="505.50" cy="84.20" r="0.9" fill="#b5b5b5" stroke="#6f6f6f" stroke-width="0.4"/>
<circle cx="511.50" cy="83.90" r="0.9" fill="#b5b5b5" stroke="#6f6f6f" stroke-width="0.4"/>
<circle cx="438.10" cy="108.00" r="0.9" fill="#b5b5b5" stroke="#6f6f6f" stroke-width="0.4"/>
<circle cx="437.10" cy="110.50" r="0.9" fill="#b5b5b5" stroke="#6f6f6f" stroke-width="0.4"/>
<circle cx="434.90" cy="112.90" r="0.9" fill="#b5b5b5" stroke="#6f6f6f" stroke-width="0.4"/>
<circle cx="450.80" cy="107.10" r="0.9" fill="#b5b5b5" stroke="#6f6f6f" stroke-width="0.4"/>
<circle cx="447.10" cy="113.60" r="0.9" fill="#b5b5b5" stroke="#6f6f6f" stroke-width="0.4"/>
<circle cx="414.30" cy="136.10" r="0.9" fill="#b5b5b5" stroke="#6f6f6f" stroke-width="0.4"/>
<circle cx="424.30" cy="143.80" r="0.9" fill="#b5b5b5" stroke="#6f6f6f" stroke-width="0.4"/>
<circle cx="532.30" cy="47.20" r="0.9" fill="#b5b5b5" stroke="#6f6f6f" stroke-width="0.4"/>
<circle cx="530.00" cy="84.20" r="0.9" fill="#b5b5b5" stroke="#6f6f6f" stroke-width="0.4"/>
<circle cx="524.80" cy="103.00" r="0.9" fill="#b5b5b5" stroke="#6f6f6f" stroke-width="0.4"/>
<circle cx="524.20" cy="117.10" r="0.9" fill="#b5b5b5" stroke="#6f6f6f" stroke-width="0.4"/>
<circle cx="422.20" cy="136.10" r="0.9" fill="#b5b5b5" stroke="#6f6f6f" stroke-width="0.4"/>
<circle cx="434.90" cy="131.10" r="0.9" fill="#b5b5b5" stroke="#6f6f6f" stroke-width="0.4"/>
<circle cx="437.10" cy="133.00" r="0.9" fill="#b5b5b5" stroke="#6f6f6f" stroke-width="0.4"/>
<circle cx="451.30" cy="140.70" r="0.9" fill="#b5b5b5" stroke="#6f6f6f" stroke-width="0.4"/>
<circle cx="496.40" cy="115.70" r="0.9" fill="#b5b5b5" stroke="#6f6f6f" stroke-width="0.4"/>
<line x1="527.60" y1="93.30" x2="559.80" y2="59.00" stroke="#2a2a2c" stroke-width="0.5"/>
<line x1="527.60" y1="93.30" x2="542.70" y2="66.10" stroke="#2a2a2c" stroke-width="0.5"/>
<line x1="527.60" y1="93.30" x2="553.80" y2="66.10" stroke="#2a2a2c" stroke-width="0.5"/>
<line x1="527.60" y1="93.30" x2="511.40" y2="76.10" stroke="#2a2a2c" stroke-width="0.5"/>
<line x1="527.60" y1="93.30" x2="491.00" y2="80.10" stroke="#2a2a2c" stroke-width="0.5"/>
<line x1="527.60" y1="93.30" x2="543.90" y2="84.80" stroke="#2a2a2c" stroke-width="0.5"/>
<line x1="527.60" y1="93.30" x2="504.00" y2="96.60" stroke="#2a2a2c" stroke-width="0.5"/>
<line x1="527.60" y1="93.30" x2="469.10" y2="88.10" stroke="#2a2a2c" stroke-width="0.5"/>
<line x1="527.60" y1="93.30" x2="462.10" y2="102.60" stroke="#2a2a2c" stroke-width="0.5"/>
<line x1="527.60" y1="93.30" x2="517.30" y2="101.20" stroke="#2a2a2c" stroke-width="0.5"/>
<line x1="527.60" y1="93.30" x2="529.20" y2="126.10" stroke="#2a2a2c" stroke-width="0.5"/>
<line x1="527.60" y1="93.30" x2="527.90" y2="134.80" stroke="#2a2a2c" stroke-width="0.5"/>
<line x1="530.90" y1="92.40" x2="552.70" y2="71.10" stroke="#2a2a2c" stroke-width="0.5"/>
<line x1="530.90" y1="92.40" x2="547.20" y2="73.60" stroke="#2a2a2c" stroke-width="0.5"/>
<line x1="530.90" y1="92.40" x2="554.30" y2="91.30" stroke="#2a2a2c" stroke-width="0.5"/>
<line x1="530.90" y1="92.40" x2="545.70" y2="91.30" stroke="#2a2a2c" stroke-width="0.5"/>
<line x1="530.90" y1="92.40" x2="515.50" y2="92.30" stroke="#2a2a2c" stroke-width="0.5"/>
<line x1="530.90" y1="92.40" x2="490.90" y2="79.70" stroke="#2a2a2c" stroke-width="0.5"/>
<line x1="530.90" y1="92.40" x2="547.20" y2="100.90" stroke="#2a2a2c" stroke-width="0.5"/>
<line x1="530.90" y1="92.40" x2="542.90" y2="102.40" stroke="#2a2a2c" stroke-width="0.5"/>
<line x1="530.90" y1="92.40" x2="533.50" y2="127.70" stroke="#2a2a2c" stroke-width="0.5"/>
<line x1="530.90" y1="92.40" x2="558.60" y2="60.50" stroke="#2a2a2c" stroke-width="0.5"/>
<line x1="537.90" y1="109.90" x2="559.80" y2="68.60" stroke="#2a2a2c" stroke-width="0.5"/>
<line x1="537.90" y1="109.90" x2="559.80" y2="73.90" stroke="#2a2a2c" stroke-width="0.5"/>
<line x1="537.90" y1="109.90" x2="546.60" y2="108.40" stroke="#2a2a2c" stroke-width="0.5"/>
<line x1="537.90" y1="109.90" x2="532.90" y2="120.50" stroke="#2a2a2c" stroke-width="0.5"/>
<line x1="537.90" y1="109.90" x2="545.60" y2="172.30" stroke="#2a2a2c" stroke-width="0.5"/>
<line x1="537.90" y1="109.90" x2="533.50" y2="116.70" stroke="#2a2a2c" stroke-width="0.5"/>
<line x1="537.90" y1="109.90" x2="542.90" y2="102.40" stroke="#2a2a2c" stroke-width="0.5"/>
<line x1="537.90" y1="109.90" x2="529.50" y2="93.00" stroke="#2a2a2c" stroke-width="0.5"/>
<circle cx="559.80" cy="59.00" r="1.0" fill="#2a2a2c"/>
<circle cx="542.70" cy="66.10" r="1.0" fill="#2a2a2c"/>
<circle cx="553.80" cy="66.10" r="1.0" fill="#2a2a2c"/>
<circle cx="511.40" cy="76.10" r="1.0" fill="#2a2a2c"/>
<circle cx="491.00" cy="80.10" r="1.0" fill="#2a2a2c"/>
<circle cx="543.90" cy="84.80" r="1.0" fill="#2a2a2c"/>
<circle cx="504.00" cy="96.60" r="1.0" fill="#2a2a2c"/>
<circle cx="469.10" cy="88.10" r="1.0" fill="#2a2a2c"/>
<circle cx="462.10" cy="102.60" r="1.0" fill="#2a2a2c"/>
<circle cx="517.30" cy="101.20" r="1.0" fill="#2a2a2c"/>
<circle cx="529.20" cy="126.10" r="1.0" fill="#2a2a2c"/>
<circle cx="527.90" cy="134.80" r="1.0" fill="#2a2a2c"/>
<circle cx="552.70" cy="71.10" r="1.0" fill="#2a2a2c"/>
<circle cx="547.20" cy="73.60" r="1.0" fill="#2a2a2c"/>
<circle cx="554.30" cy="91.30" r="1.0" fill="#2a2a2c"/>
<circle cx="545.70" cy="91.30" r="1.0" fill="#2a2a2c"/>
<circle cx="515.50" cy="92.30" r="1.0" fill="#2a2a2c"/>
<circle cx="490.90" cy="79.70" r="1.0" fill="#2a2a2c"/>
<circle cx="547.20" cy="100.90" r="1.0" fill="#2a2a2c"/>
<circle cx="542.90" cy="102.40" r="1.0" fill="#2a2a2c"/>
<circle cx="533.50" cy="127.70" r="1.0" fill="#2a2a2c"/>
<circle cx="558.60" cy="60.50" r="1.0" fill="#2a2a2c"/>
<circle cx="559.80" cy="68.60" r="1.0" fill="#2a2a2c"/>
<circle cx="559.80" cy="73.90" r="1.0" fill="#2a2a2c"/>
<circle cx="546.60" cy="108.40" r="1.0" fill="#2a2a2c"/>
<circle cx="532.90" cy="120.50" r="1.0" fill="#2a2a2c"/>
<circle cx="545.60" cy="172.30" r="1.0" fill="#2a2a2c"/>
<circle cx="533.50" cy="116.70" r="1.0" fill="#2a2a2c"/>
<circle cx="542.90" cy="102.40" r="1.0" fill="#2a2a2c"/>
<line x1="513.90" y1="122.70" x2="471.40" y2="86.80" stroke="#8f3a97" stroke-width="0.55"/>
<line x1="513.90" y1="122.70" x2="490.20" y2="82.10" stroke="#8f3a97" stroke-width="0.55"/>
<line x1="513.90" y1="122.70" x2="421.40" y2="141.50" stroke="#8f3a97" stroke-width="0.55"/>
<line x1="513.90" y1="122.70" x2="515.50" y2="96.60" stroke="#8f3a97" stroke-width="0.55"/>
<line x1="513.90" y1="122.70" x2="514.20" y2="137.30" stroke="#8f3a97" stroke-width="0.55"/>
<line x1="513.90" y1="122.70" x2="505.30" y2="199.00" stroke="#8f3a97" stroke-width="0.55"/>
<line x1="513.90" y1="122.70" x2="548.20" y2="92.10" stroke="#8f3a97" stroke-width="0.55"/>
<line x1="513.90" y1="122.70" x2="538.50" y2="101.20" stroke="#8f3a97" stroke-width="0.55"/>
<line x1="513.90" y1="122.70" x2="551.60" y2="118.60" stroke="#8f3a97" stroke-width="0.55"/>
<line x1="513.90" y1="122.70" x2="551.60" y2="120.50" stroke="#8f3a97" stroke-width="0.55"/>
<line x1="513.90" y1="122.70" x2="540.40" y2="150.50" stroke="#8f3a97" stroke-width="0.55"/>
<line x1="513.90" y1="122.70" x2="532.30" y2="108.00" stroke="#8f3a97" stroke-width="0.55"/>
<line x1="540.40" y1="150.50" x2="530.20" y2="150.50" stroke="#8f3a97" stroke-width="0.55"/>
<line x1="540.40" y1="150.50" x2="533.50" y2="146.20" stroke="#8f3a97" stroke-width="0.55"/>
<line x1="540.40" y1="150.50" x2="549.70" y2="153.90" stroke="#8f3a97" stroke-width="0.55"/>
<line x1="540.40" y1="150.50" x2="558.10" y2="151.80" stroke="#8f3a97" stroke-width="0.55"/>
<line x1="540.40" y1="150.50" x2="559.10" y2="154.30" stroke="#8f3a97" stroke-width="0.55"/>
<line x1="540.40" y1="150.50" x2="550.00" y2="115.20" stroke="#8f3a97" stroke-width="0.55"/>
<line x1="540.40" y1="150.50" x2="547.20" y2="126.10" stroke="#8f3a97" stroke-width="0.55"/>
<line x1="540.40" y1="150.50" x2="544.70" y2="106.80" stroke="#8f3a97" stroke-width="0.55"/>
<line x1="540.40" y1="150.50" x2="548.50" y2="166.70" stroke="#8f3a97" stroke-width="0.55"/>
<line x1="540.40" y1="150.50" x2="521.10" y2="188.90" stroke="#8f3a97" stroke-width="0.55"/>
<line x1="540.40" y1="150.50" x2="526.10" y2="188.90" stroke="#8f3a97" stroke-width="0.55"/>
<line x1="540.40" y1="150.50" x2="527.10" y2="182.40" stroke="#8f3a97" stroke-width="0.55"/>
<line x1="540.40" y1="150.50" x2="535.60" y2="173.00" stroke="#8f3a97" stroke-width="0.55"/>
<line x1="535.60" y1="173.00" x2="548.50" y2="166.50" stroke="#8f3a97" stroke-width="0.55"/>
<line x1="535.60" y1="173.00" x2="553.80" y2="166.20" stroke="#8f3a97" stroke-width="0.55"/>
<line x1="535.60" y1="173.00" x2="550.00" y2="178.70" stroke="#8f3a97" stroke-width="0.55"/>
<line x1="535.60" y1="173.00" x2="520.50" y2="180.90" stroke="#8f3a97" stroke-width="0.55"/>
<line x1="535.60" y1="173.00" x2="527.30" y2="176.80" stroke="#8f3a97" stroke-width="0.55"/>
<line x1="535.60" y1="173.00" x2="541.60" y2="194.90" stroke="#8f3a97" stroke-width="0.55"/>
<line x1="535.60" y1="173.00" x2="544.70" y2="202.60" stroke="#8f3a97" stroke-width="0.55"/>
<line x1="535.60" y1="173.00" x2="505.30" y2="199.00" stroke="#8f3a97" stroke-width="0.55"/>
<line x1="535.60" y1="173.00" x2="538.50" y2="165.50" stroke="#8f3a97" stroke-width="0.55"/>
<line x1="535.60" y1="173.00" x2="536.00" y2="134.40" stroke="#8f3a97" stroke-width="0.55"/>
<circle cx="471.40" cy="86.80" r="1.0" fill="#8f3a97"/>
<circle cx="490.20" cy="82.10" r="1.0" fill="#8f3a97"/>
<circle cx="421.40" cy="141.50" r="1.0" fill="#8f3a97"/>
<circle cx="515.50" cy="96.60" r="1.0" fill="#8f3a97"/>
<circle cx="514.20" cy="137.30" r="1.0" fill="#8f3a97"/>
<circle cx="505.30" cy="199.00" r="1.0" fill="#8f3a97"/>
<circle cx="548.20" cy="92.10" r="1.0" fill="#8f3a97"/>
<circle cx="538.50" cy="101.20" r="1.0" fill="#8f3a97"/>
<circle cx="551.60" cy="118.60" r="1.0" fill="#8f3a97"/>
<circle cx="551.60" cy="120.50" r="1.0" fill="#8f3a97"/>
<circle cx="532.30" cy="108.00" r="1.0" fill="#8f3a97"/>
<circle cx="530.20" cy="150.50" r="1.0" fill="#8f3a97"/>
<circle cx="533.50" cy="146.20" r="1.0" fill="#8f3a97"/>
<circle cx="549.70" cy="153.90" r="1.0" fill="#8f3a97"/>
<circle cx="558.10" cy="151.80" r="1.0" fill="#8f3a97"/>
<circle cx="559.10" cy="154.30" r="1.0" fill="#8f3a97"/>
<circle cx="550.00" cy="115.20" r="1.0" fill="#8f3a97"/>
<circle cx="547.20" cy="126.10" r="1.0" fill="#8f3a97"/>
<circle cx="544.70" cy="106.80" r="1.0" fill="#8f3a97"/>
<circle cx="548.50" cy="166.70" r="1.0" fill="#8f3a97"/>
<circle cx="521.10" cy="188.90" r="1.0" fill="#8f3a97"/>
<circle cx="526.10" cy="188.90" r="1.0" fill="#8f3a97"/>
<circle cx="527.10" cy="182.40" r="1.0" fill="#8f3a97"/>
<circle cx="548.50" cy="166.50" r="1.0" fill="#8f3a97"/>
<circle cx="553.80" cy="166.20" r="1.0" fill="#8f3a97"/>
<circle cx="550.00" cy="178.70" r="1.0" fill="#8f3a97"/>
<circle cx="520.50" cy="180.90" r="1.0" fill="#8f3a97"/>
<circle cx="527.30" cy="176.80" r="1.0" fill="#8f3a97"/>
<circle cx="541.60" cy="194.90" r="1.0" fill="#8f3a97"/>
<circle cx="544.70" cy="202.60" r="1.0" fill="#8f3a97"/>
<circle cx="505.30" cy="199.00" r="1.0" fill="#8f3a97"/>
<circle cx="538.50" cy="165.50" r="1.0" fill="#8f3a97"/>
<circle cx="536.00" cy="134.40" r="1.0" fill="#8f3a97"/>
</g>
<circle cx="471.40" cy="99.50" r="3.65" fill="#9c9c9c"/>
<text x="471.40" y="101.45" font-size="5.5" fill="#222" text-anchor="middle" font-weight="bold">4</text>
<circle cx="463.50" cy="109.80" r="3.65" fill="#9c9c9c"/>
<text x="463.50" y="111.75" font-size="5.5" fill="#222" text-anchor="middle" font-weight="bold">8</text>
<circle cx="489.70" cy="109.60" r="3.65" fill="#9c9c9c"/>
<text x="489.70" y="111.55" font-size="5.5" fill="#222" text-anchor="middle" font-weight="bold">12</text>
<circle cx="527.60" cy="93.30" r="3.1" fill="#2a2a2c"/>
<circle cx="530.90" cy="92.40" r="3.1" fill="#2a2a2c"/>
<circle cx="537.90" cy="109.90" r="3.65" fill="#2a2a2c"/>
<text x="537.90" y="111.85" font-size="5.5" fill="#111" text-anchor="middle" font-weight="bold">12</text>
<circle cx="513.90" cy="122.70" r="3.65" fill="#9a3d9f"/>
<text x="513.90" y="124.65" font-size="5.5" fill="#222" text-anchor="middle" font-weight="bold">4</text>
<circle cx="540.40" cy="150.50" r="3.65" fill="#9a3d9f"/>
<text x="540.40" y="152.45" font-size="5.5" fill="#222" text-anchor="middle" font-weight="bold">8</text>
<circle cx="535.60" cy="173.00" r="3.65" fill="#9a3d9f"/>
<text x="535.60" y="174.95" font-size="5.5" fill="#222" text-anchor="middle" font-weight="bold">12</text>
<rect x="407.50" y="39.30" width="158.90" height="170.30" fill="none" stroke="#5e5e5e" stroke-width="0.6"/>
<line x1="455.30" y1="209.60" x2="455.30" y2="210.90" stroke="#333" stroke-width="0.4"/>
<text x="455.30" y="215.70" font-size="4.2" fill="#3c3c3c" text-anchor="middle">-0.1</text>
<line x1="513.30" y1="209.60" x2="513.30" y2="210.90" stroke="#333" stroke-width="0.4"/>
<text x="513.30" y="215.70" font-size="4.2" fill="#3c3c3c" text-anchor="middle">0.0</text>
<line x1="406.20" y1="55.30" x2="407.50" y2="55.30" stroke="#333" stroke-width="0.4"/>
<text x="404.90" y="56.80" font-size="4.2" fill="#3c3c3c" text-anchor="end">0.10</text>
<line x1="406.20" y1="86.50" x2="407.50" y2="86.50" stroke="#333" stroke-width="0.4"/>
<text x="404.90" y="88.00" font-size="4.2" fill="#3c3c3c" text-anchor="end">0.05</text>
<line x1="406.20" y1="117.70" x2="407.50" y2="117.70" stroke="#333" stroke-width="0.4"/>
<text x="404.90" y="119.20" font-size="4.2" fill="#3c3c3c" text-anchor="end">0.00</text>
<line x1="406.20" y1="148.90" x2="407.50" y2="148.90" stroke="#333" stroke-width="0.4"/>
<text x="404.90" y="150.40" font-size="4.2" fill="#3c3c3c" text-anchor="end">-0.05</text>
<line x1="406.20" y1="180.10" x2="407.50" y2="180.10" stroke="#333" stroke-width="0.4"/>
<text x="404.90" y="181.60" font-size="4.2" fill="#3c3c3c" text-anchor="end">-0.10</text>
<text x="487.30" y="221.20" font-size="5.2" fill="#111" text-anchor="middle" textLength="37.50" lengthAdjust="spacingAndGlyphs">Axis1 ( 38.56 % )</text>
<text x="393.60" y="126.30" font-size="5.2" fill="#111" text-anchor="middle" textLength="37.50" lengthAdjust="spacingAndGlyphs" transform="rotate(-90 393.60 126.30)">Axis2 ( 25.18 % )</text>
<circle cx="413.70" cy="181.40" r="4.2" fill="#9a3d9f"/>
<text x="420.70" y="184.80" font-size="7.8" fill="#1a1617" textLength="34.20" lengthAdjust="spacingAndGlyphs">HFD+Lyso</text>
<circle cx="413.70" cy="191.80" r="4.2" fill="#3b3b3d"/>
<text x="420.70" y="195.20" font-size="7.8" fill="#1a1617" textLength="43.50" lengthAdjust="spacingAndGlyphs">HFD+Vehicle</text>
<circle cx="413.70" cy="202.20" r="4.2" fill="#9c9c9c"/>
<text x="420.70" y="205.60" font-size="7.8" fill="#1a1617" textLength="41.70" lengthAdjust="spacingAndGlyphs">LFD+Vehicle</text>
<rect x="102.40" y="272.70" width="138.90" height="175.20" fill="#ffffff"/>
<line x1="112.70" y1="272.70" x2="112.70" y2="447.90" stroke="#efefef" stroke-width="0.4"/>
<line x1="157.30" y1="272.70" x2="157.30" y2="447.90" stroke="#efefef" stroke-width="0.4"/>
<line x1="201.90" y1="272.70" x2="201.90" y2="447.90" stroke="#efefef" stroke-width="0.4"/>
<line x1="135.00" y1="272.70" x2="135.00" y2="447.90" stroke="#e3e3e3" stroke-width="0.6"/>
<line x1="179.60" y1="272.70" x2="179.60" y2="447.90" stroke="#e3e3e3" stroke-width="0.6"/>
<line x1="224.20" y1="272.70" x2="224.20" y2="447.90" stroke="#e3e3e3" stroke-width="0.6"/>
<line x1="102.40" y1="281.60" x2="241.30" y2="281.60" stroke="#e3e3e3" stroke-width="0.6"/>
<line x1="102.40" y1="297.28" x2="241.30" y2="297.28" stroke="#e3e3e3" stroke-width="0.6"/>
<line x1="102.40" y1="312.96" x2="241.30" y2="312.96" stroke="#e3e3e3" stroke-width="0.6"/>
<line x1="102.40" y1="328.64" x2="241.30" y2="328.64" stroke="#e3e3e3" stroke-width="0.6"/>
<line x1="102.40" y1="344.32" x2="241.30" y2="344.32" stroke="#e3e3e3" stroke-width="0.6"/>
<line x1="102.40" y1="360.00" x2="241.30" y2="360.00" stroke="#e3e3e3" stroke-width="0.6"/>
<line x1="102.40" y1="375.68" x2="241.30" y2="375.68" stroke="#e3e3e3" stroke-width="0.6"/>
<line x1="102.40" y1="391.36" x2="241.30" y2="391.36" stroke="#e3e3e3" stroke-width="0.6"/>
<line x1="102.40" y1="407.04" x2="241.30" y2="407.04" stroke="#e3e3e3" stroke-width="0.6"/>
<line x1="102.40" y1="422.72" x2="241.30" y2="422.72" stroke="#e3e3e3" stroke-width="0.6"/>
<line x1="102.40" y1="438.40" x2="241.30" y2="438.40" stroke="#e3e3e3" stroke-width="0.6"/>
<line x1="135.10" y1="272.70" x2="135.10" y2="447.90" stroke="#555" stroke-width="1.1"/>
<circle cx="114.30" cy="281.60" r="1.15" fill="#ea4f4f"/>
<circle cx="115.60" cy="281.60" r="1.15" fill="#ea4f4f"/>
<circle cx="124.70" cy="312.96" r="1.15" fill="#ea4f4f"/>
<circle cx="126.70" cy="328.64" r="1.15" fill="#ea4f4f"/>
<circle cx="148.10" cy="344.32" r="1.15" fill="#ea4f4f"/>
<circle cx="141.30" cy="360.00" r="1.15" fill="#ea4f4f"/>
<circle cx="146.00" cy="360.00" r="1.15" fill="#ea4f4f"/>
<circle cx="148.10" cy="360.00" r="1.15" fill="#ea4f4f"/>
<circle cx="108.50" cy="391.36" r="1.15" fill="#ea4f4f"/>
<circle cx="111.70" cy="391.36" r="1.15" fill="#ea4f4f"/>
<circle cx="113.30" cy="391.36" r="1.15" fill="#ea4f4f"/>
<circle cx="114.90" cy="391.36" r="1.15" fill="#ea4f4f"/>
<circle cx="116.50" cy="391.36" r="1.15" fill="#ea4f4f"/>
<circle cx="118.10" cy="391.36" r="1.15" fill="#ea4f4f"/>
<circle cx="119.70" cy="391.36" r="1.15" fill="#ea4f4f"/>
<circle cx="121.20" cy="391.36" r="1.15" fill="#ea4f4f"/>
<circle cx="122.70" cy="391.36" r="1.15" fill="#ea4f4f"/>
<circle cx="145.20" cy="391.36" r="1.15" fill="#ea4f4f"/>
<circle cx="147.80" cy="391.36" r="1.15" fill="#ea4f4f"/>
<circle cx="149.30" cy="391.36" r="1.15" fill="#ea4f4f"/>
<circle cx="150.80" cy="391.36" r="1.15" fill="#ea4f4f"/>
<circle cx="155.00" cy="391.36" r="1.15" fill="#ea4f4f"/>
<circle cx="157.00" cy="391.36" r="1.15" fill="#ea4f4f"/>
<circle cx="160.30" cy="391.36" r="1.15" fill="#ea4f4f"/>
<circle cx="146.70" cy="407.04" r="1.15" fill="#ea4f4f"/>
<circle cx="148.20" cy="407.04" r="1.15" fill="#ea4f4f"/>
<circle cx="149.80" cy="407.04" r="1.15" fill="#ea4f4f"/>
<circle cx="151.30" cy="407.04" r="1.15" fill="#ea4f4f"/>
<circle cx="152.90" cy="407.04" r="1.15" fill="#ea4f4f"/>
<circle cx="154.40" cy="407.04" r="1.15" fill="#ea4f4f"/>
<circle cx="156.00" cy="407.04" r="1.15" fill="#ea4f4f"/>
<circle cx="157.50" cy="407.04" r="1.15" fill="#ea4f4f"/>
<circle cx="159.10" cy="407.04" r="1.15" fill="#ea4f4f"/>
<circle cx="164.10" cy="407.04" r="1.15" fill="#ea4f4f"/>
<circle cx="110.60" cy="422.72" r="1.15" fill="#ea4f4f"/>
<circle cx="112.60" cy="422.72" r="1.15" fill="#ea4f4f"/>
<circle cx="114.20" cy="422.72" r="1.15" fill="#ea4f4f"/>
<circle cx="115.80" cy="422.72" r="1.15" fill="#ea4f4f"/>
<circle cx="117.40" cy="422.72" r="1.15" fill="#ea4f4f"/>
<circle cx="119.00" cy="422.72" r="1.15" fill="#ea4f4f"/>
<circle cx="120.60" cy="422.72" r="1.15" fill="#ea4f4f"/>
<circle cx="170.30" cy="422.72" r="1.15" fill="#ea4f4f"/>
<circle cx="113.50" cy="438.40" r="1.15" fill="#ea4f4f"/>
<circle cx="114.90" cy="438.40" r="1.15" fill="#ea4f4f"/>
<circle cx="116.40" cy="438.40" r="1.15" fill="#ea4f4f"/>
<circle cx="117.80" cy="438.40" r="1.15" fill="#ea4f4f"/>
<circle cx="119.30" cy="438.40" r="1.15" fill="#ea4f4f"/>
<circle cx="120.70" cy="438.40" r="1.15" fill="#ea4f4f"/>
<circle cx="122.20" cy="438.40" r="1.15" fill="#ea4f4f"/>
<circle cx="123.60" cy="438.40" r="1.15" fill="#ea4f4f"/>
<circle cx="125.10" cy="438.40" r="1.15" fill="#ea4f4f"/>
<circle cx="144.60" cy="438.40" r="1.15" fill="#ea4f4f"/>
<circle cx="146.10" cy="438.40" r="1.15" fill="#ea4f4f"/>
<circle cx="147.60" cy="438.40" r="1.15" fill="#ea4f4f"/>
<circle cx="149.10" cy="438.40" r="1.15" fill="#ea4f4f"/>
<circle cx="150.60" cy="438.40" r="1.15" fill="#ea4f4f"/>
<circle cx="152.10" cy="438.40" r="1.15" fill="#ea4f4f"/>
<circle cx="153.60" cy="438.40" r="1.15" fill="#ea4f4f"/>
<circle cx="155.10" cy="438.40" r="1.15" fill="#ea4f4f"/>
<circle cx="156.60" cy="438.40" r="1.15" fill="#ea4f4f"/>
<circle cx="158.10" cy="438.40" r="1.15" fill="#ea4f4f"/>
<circle cx="159.60" cy="438.40" r="1.15" fill="#ea4f4f"/>
<circle cx="161.20" cy="438.40" r="1.15" fill="#ea4f4f"/>
<circle cx="234.90" cy="438.40" r="1.15" fill="#ea4f4f"/>
<circle cx="119.70" cy="297.28" r="1.15" fill="#8a4fc7"/>
<circle cx="147.60" cy="375.68" r="1.15" fill="#55a630"/>
<circle cx="157.90" cy="375.68" r="1.15" fill="#55a630"/>
<rect x="102.40" y="272.70" width="138.90" height="175.20" fill="none" stroke="#3a3a3a" stroke-width="0.6"/>
<line x1="100.10" y1="281.60" x2="102.40" y2="281.60" stroke="#2a2a2a" stroke-width="0.7"/>
<text x="99.00" y="283.80" font-size="6.25" fill="#3c3c3c" text-anchor="end">g__02d06</text>
<line x1="100.10" y1="297.28" x2="102.40" y2="297.28" stroke="#2a2a2a" stroke-width="0.7"/>
<text x="99.00" y="299.48" font-size="6.25" fill="#3c3c3c" text-anchor="end">g__Akkermansia</text>
<line x1="100.10" y1="312.96" x2="102.40" y2="312.96" stroke="#2a2a2a" stroke-width="0.7"/>
<text x="99.00" y="315.16" font-size="6.25" fill="#3c3c3c" text-anchor="end">g__SMB53</text>
<line x1="100.10" y1="328.64" x2="102.40" y2="328.64" stroke="#2a2a2a" stroke-width="0.7"/>
<text x="99.00" y="330.84" font-size="6.25" fill="#3c3c3c" text-anchor="end">g__Oscillospira</text>
<line x1="100.10" y1="344.32" x2="102.40" y2="344.32" stroke="#2a2a2a" stroke-width="0.7"/>
<text x="99.00" y="346.52" font-size="6.25" fill="#3c3c3c" text-anchor="end">g__[Ruminococcus]</text>
<line x1="100.10" y1="360.00" x2="102.40" y2="360.00" stroke="#2a2a2a" stroke-width="0.7"/>
<text x="99.00" y="362.20" font-size="6.25" fill="#3c3c3c" text-anchor="end">g__Ruminococcus</text>
<line x1="100.10" y1="375.68" x2="102.40" y2="375.68" stroke="#2a2a2a" stroke-width="0.7"/>
<text x="99.00" y="377.88" font-size="6.25" fill="#3c3c3c" text-anchor="end">g__Bifidobacterium</text>
<line x1="100.10" y1="391.36" x2="102.40" y2="391.36" stroke="#2a2a2a" stroke-width="0.7"/>
<line x1="100.10" y1="407.04" x2="102.40" y2="407.04" stroke="#2a2a2a" stroke-width="0.7"/>
<text x="99.00" y="409.24" font-size="6.25" fill="#3c3c3c" text-anchor="end">g__Allobaculum</text>
<line x1="100.10" y1="422.72" x2="102.40" y2="422.72" stroke="#2a2a2a" stroke-width="0.7"/>
<text x="99.00" y="424.92" font-size="6.25" fill="#3c3c3c" text-anchor="end">g__Clostridium</text>
<line x1="100.10" y1="438.40" x2="102.40" y2="438.40" stroke="#2a2a2a" stroke-width="0.7"/>
<text x="99.00" y="440.60" font-size="6.25" fill="#3c3c3c" text-anchor="end">g__</text>
<line x1="135.00" y1="447.90" x2="135.00" y2="450.20" stroke="#2a2a2a" stroke-width="0.7"/>
<text x="137.05" y="451.10" font-size="5.8" fill="#3c3c3c" text-anchor="end" transform="rotate(-90 137.05 451.10)">0</text>
<line x1="179.60" y1="447.90" x2="179.60" y2="450.20" stroke="#2a2a2a" stroke-width="0.7"/>
<text x="181.65" y="451.10" font-size="5.8" fill="#3c3c3c" text-anchor="end" transform="rotate(-90 181.65 451.10)">10</text>
<line x1="224.20" y1="447.90" x2="224.20" y2="450.20" stroke="#2a2a2a" stroke-width="0.7"/>
<text x="226.25" y="451.10" font-size="5.8" fill="#3c3c3c" text-anchor="end" transform="rotate(-90 226.25 451.10)">20</text>
<text x="171.50" y="466.30" font-size="7.7" fill="#1a1a1a" text-anchor="middle" textLength="56.50" lengthAdjust="spacingAndGlyphs">log2FoldChange</text>
<text x="38.80" y="360.40" font-size="7.5" fill="#1a1a1a" text-anchor="middle" textLength="22.00" lengthAdjust="spacingAndGlyphs" transform="rotate(-90 38.80 360.40)">Genus</text>
<rect x="183.80" y="274.90" width="54.80" height="33.70" fill="#fff" stroke="#555" stroke-width="0.6"/>
<text x="187.40" y="281.30" font-size="4.9" fill="#1a1a1a" textLength="15.60" lengthAdjust="spacingAndGlyphs">Phylum</text>
<circle cx="191.70" cy="288.20" r="0.8" fill="#ea4f4f"/>
<text x="199.40" y="289.60" font-size="4.1" fill="#1a1a1a" textLength="27.04" lengthAdjust="spacingAndGlyphs">p__Firmicutes</text>
<circle cx="191.70" cy="296.50" r="0.8" fill="#55a630"/>
<text x="199.40" y="297.90" font-size="4.1" fill="#1a1a1a" textLength="34.47" lengthAdjust="spacingAndGlyphs">p__Actinobacteria</text>
<circle cx="191.70" cy="304.80" r="0.8" fill="#8a4fc7"/>
<text x="199.40" y="306.20" font-size="4.1" fill="#1a1a1a" textLength="38.30" lengthAdjust="spacingAndGlyphs">p__Verrucomicrobia</text>
<rect x="283.50" y="278.30" width="74.10" height="64.70" fill="#ffffff"/>
<line x1="293.80" y1="278.30" x2="293.80" y2="343.00" stroke="#efefef" stroke-width="0.4"/>
<line x1="308.00" y1="278.30" x2="308.00" y2="343.00" stroke="#efefef" stroke-width="0.4"/>
<line x1="322.20" y1="278.30" x2="322.20" y2="343.00" stroke="#efefef" stroke-width="0.4"/>
<line x1="336.40" y1="278.30" x2="336.40" y2="343.00" stroke="#efefef" stroke-width="0.4"/>
<line x1="350.60" y1="278.30" x2="350.60" y2="343.00" stroke="#efefef" stroke-width="0.4"/>
<line x1="283.50" y1="302.70" x2="357.60" y2="302.70" stroke="#efefef" stroke-width="0.4"/>
<line x1="283.50" y1="321.65" x2="357.60" y2="321.65" stroke="#efefef" stroke-width="0.4"/>
<line x1="286.70" y1="278.30" x2="286.70" y2="343.00" stroke="#e3e3e3" stroke-width="0.6"/>
<line x1="300.90" y1="278.30" x2="300.90" y2="343.00" stroke="#e3e3e3" stroke-width="0.6"/>
<line x1="315.10" y1="278.30" x2="315.10" y2="343.00" stroke="#e3e3e3" stroke-width="0.6"/>
<line x1="329.30" y1="278.30" x2="329.30" y2="343.00" stroke="#e3e3e3" stroke-width="0.6"/>
<line x1="343.50" y1="278.30" x2="343.50" y2="343.00" stroke="#e3e3e3" stroke-width="0.6"/>
<line x1="357.70" y1="278.30" x2="357.70" y2="343.00" stroke="#e3e3e3" stroke-width="0.6"/>
<line x1="283.50" y1="293.20" x2="357.60" y2="293.20" stroke="#e3e3e3" stroke-width="0.6"/>
<line x1="283.50" y1="312.20" x2="357.60" y2="312.20" stroke="#e3e3e3" stroke-width="0.6"/>
<line x1="283.50" y1="331.10" x2="357.60" y2="331.10" stroke="#e3e3e3" stroke-width="0.6"/>
<clipPath id="cpSut"><rect x="283.5" y="278.3" width="74.10000000000002" height="64.69999999999999"/></clipPath>
<g clip-path="url(#cpSut)">
<path d="M287.22,306.25C288.06,307.18 290.48,310.20 292.25,311.84C294.03,313.49 295.99,315.11 297.85,316.13C299.72,317.16 301.58,317.63 303.45,318.00C305.31,318.37 306.25,318.22 309.04,318.37C311.84,318.53 316.20,318.78 320.24,318.93C324.28,319.09 329.57,319.65 333.30,319.31C337.03,318.96 340.14,317.81 342.63,316.88C345.11,315.95 346.30,314.77 348.22,313.71C350.15,312.65 353.20,311.07 354.19,310.54L354.19,325.84C353.20,325.84 350.15,325.68 348.22,325.84C346.30,325.99 345.11,326.21 342.63,326.77C340.14,327.33 336.41,328.73 333.30,329.19C330.19,329.66 328.01,329.50 323.97,329.57C319.93,329.63 312.47,329.82 309.04,329.57C305.62,329.32 305.31,328.54 303.45,328.07C301.58,327.61 299.72,326.83 297.85,326.77C295.99,326.71 294.03,327.24 292.25,327.70C290.48,328.17 288.06,329.26 287.22,329.57Z" fill="#8f8f8f" fill-opacity="0.38"/>
<path d="M287.22,308.11C288.06,307.49 290.48,305.94 292.25,304.38C294.03,302.83 295.99,300.49 297.85,298.78C299.72,297.07 301.58,295.05 303.45,294.12C305.31,293.19 307.18,293.19 309.04,293.19C310.91,293.19 312.78,294.27 314.64,294.12C316.51,293.96 318.37,293.12 320.24,292.25C322.10,291.38 323.97,289.67 325.84,288.90C327.70,288.12 329.57,287.65 331.43,287.59C333.30,287.53 335.16,288.52 337.03,288.52C338.90,288.52 340.76,288.27 342.63,287.59C344.49,286.91 346.30,285.44 348.22,284.42C350.15,283.39 353.20,281.93 354.19,281.43L354.19,304.38C353.20,304.38 350.15,304.07 348.22,304.38C346.30,304.69 344.49,305.31 342.63,306.25C340.76,307.18 338.90,309.14 337.03,309.98C335.16,310.82 333.30,311.13 331.43,311.28C329.57,311.44 327.70,310.82 325.84,310.91C323.97,311.00 322.10,311.38 320.24,311.84C318.37,312.31 316.51,313.09 314.64,313.71C312.78,314.33 310.91,314.80 309.04,315.57C307.18,316.35 305.31,317.28 303.45,318.37C301.58,319.46 299.72,320.86 297.85,322.10C295.99,323.35 294.03,324.44 292.25,325.84C290.48,327.24 288.06,329.72 287.22,330.50Z" fill="#8f8f8f" fill-opacity="0.38"/>
<path d="M287.22,314.64C288.06,315.01 290.48,316.10 292.25,316.88C294.03,317.66 295.99,318.75 297.85,319.31C299.72,319.87 301.58,320.24 303.45,320.24C305.31,320.24 306.87,319.21 309.04,319.31C311.22,319.40 314.02,320.49 316.51,320.80C319.00,321.11 321.48,321.02 323.97,321.17C326.46,321.33 329.26,321.73 331.43,321.73C333.61,321.73 335.16,321.73 337.03,321.17C338.90,320.61 340.76,319.31 342.63,318.37C344.49,317.44 346.30,316.51 348.22,315.57C350.15,314.64 353.20,313.24 354.19,312.78L354.19,333.30C352.89,333.67 348.60,334.67 346.36,335.54C344.12,336.41 342.63,337.81 340.76,338.52C338.90,339.24 337.03,340.01 335.16,339.83C333.30,339.64 331.74,337.62 329.57,337.40C327.39,337.19 324.59,338.12 322.10,338.52C319.62,338.93 316.82,339.77 314.64,339.83C312.47,339.89 310.91,339.36 309.04,338.90C307.18,338.43 305.31,337.81 303.45,337.03C301.58,336.25 299.72,335.01 297.85,334.23C295.99,333.45 294.03,332.68 292.25,332.37C290.48,332.05 288.06,332.37 287.22,332.37Z" fill="#8f8f8f" fill-opacity="0.38"/>
<path d="M287.22,318.00C288.06,318.12 290.48,318.22 292.25,318.75C294.03,319.27 295.99,320.46 297.85,321.17C299.72,321.89 301.89,322.60 303.45,323.04C305.00,323.47 305.31,323.63 307.18,323.78C309.04,323.94 311.84,323.91 314.64,323.97C317.44,324.03 320.86,324.13 323.97,324.16C327.08,324.19 330.81,324.34 333.30,324.16C335.79,323.97 337.03,323.53 338.90,323.04C340.76,322.54 342.63,321.79 344.49,321.17C346.36,320.55 348.47,319.77 350.09,319.31C351.71,318.84 353.51,318.53 354.19,318.37" fill="none" stroke="#999999" stroke-width="1.7" stroke-linecap="butt"/>
<path d="M287.22,318.75C288.06,318.06 290.48,316.20 292.25,314.64C294.03,313.09 295.99,310.97 297.85,309.42C299.72,307.86 301.89,306.22 303.45,305.31C305.00,304.41 305.62,304.32 307.18,304.01C308.73,303.70 310.91,303.79 312.78,303.45C314.64,303.11 316.51,302.42 318.37,301.96C320.24,301.49 322.10,301.02 323.97,300.65C325.84,300.28 327.70,299.97 329.57,299.72C331.43,299.47 332.99,299.62 335.16,299.16C337.34,298.69 340.45,297.60 342.63,296.92C344.80,296.23 346.30,295.64 348.22,295.05C350.15,294.46 353.20,293.65 354.19,293.37" fill="none" stroke="#333335" stroke-width="1.7" stroke-linecap="butt"/>
<path d="M287.22,322.48C288.06,322.73 290.48,323.32 292.25,323.97C294.03,324.62 295.99,325.62 297.85,326.40C299.72,327.17 301.89,328.11 303.45,328.63C305.00,329.16 305.31,329.38 307.18,329.57C309.04,329.75 311.84,329.69 314.64,329.75C317.44,329.82 321.17,329.88 323.97,329.94C326.77,330.00 329.57,330.16 331.43,330.13C333.30,330.10 333.30,330.22 335.16,329.75C337.03,329.29 340.45,328.14 342.63,327.33C344.80,326.52 346.30,325.68 348.22,324.90C350.15,324.13 353.20,323.04 354.19,322.66" fill="none" stroke="#9a3d9f" stroke-width="1.7" stroke-linecap="butt"/>
</g>
<rect x="283.50" y="278.30" width="74.10" height="64.70" fill="none" stroke="#6a6a6a" stroke-width="0.5"/>
<text x="285.20" y="275.40" font-size="5.6" fill="#1a1a1a" textLength="31.30" lengthAdjust="spacingAndGlyphs">g__Sutterella</text>
<line x1="286.70" y1="343.00" x2="286.70" y2="344.20" stroke="#333" stroke-width="0.4"/>
<text x="286.70" y="348.80" font-size="3.9" fill="#3c3c3c" text-anchor="middle" textLength="5.42" lengthAdjust="spacingAndGlyphs">0.0</text>
<line x1="300.90" y1="343.00" x2="300.90" y2="344.20" stroke="#333" stroke-width="0.4"/>
<text x="300.90" y="348.80" font-size="3.9" fill="#3c3c3c" text-anchor="middle" textLength="5.42" lengthAdjust="spacingAndGlyphs">2.5</text>
<line x1="315.10" y1="343.00" x2="315.10" y2="344.20" stroke="#333" stroke-width="0.4"/>
<text x="315.10" y="348.80" font-size="3.9" fill="#3c3c3c" text-anchor="middle" textLength="5.42" lengthAdjust="spacingAndGlyphs">5.0</text>
<line x1="329.30" y1="343.00" x2="329.30" y2="344.20" stroke="#333" stroke-width="0.4"/>
<text x="329.30" y="348.80" font-size="3.9" fill="#3c3c3c" text-anchor="middle" textLength="5.42" lengthAdjust="spacingAndGlyphs">7.5</text>
<line x1="343.50" y1="343.00" x2="343.50" y2="344.20" stroke="#333" stroke-width="0.4"/>
<text x="343.50" y="348.80" font-size="3.9" fill="#3c3c3c" text-anchor="middle" textLength="7.59" lengthAdjust="spacingAndGlyphs">10.0</text>
<line x1="357.70" y1="343.00" x2="357.70" y2="344.20" stroke="#333" stroke-width="0.4"/>
<text x="357.70" y="348.80" font-size="3.9" fill="#3c3c3c" text-anchor="middle" textLength="7.59" lengthAdjust="spacingAndGlyphs">12.5</text>
<line x1="282.30" y1="293.20" x2="283.50" y2="293.20" stroke="#333" stroke-width="0.4"/>
<text x="281.50" y="294.60" font-size="3.9" fill="#3c3c3c" text-anchor="end" textLength="5.42" lengthAdjust="spacingAndGlyphs">0.3</text>
<line x1="282.30" y1="312.20" x2="283.50" y2="312.20" stroke="#333" stroke-width="0.4"/>
<text x="281.50" y="313.60" font-size="3.9" fill="#3c3c3c" text-anchor="end" textLength="5.42" lengthAdjust="spacingAndGlyphs">0.2</text>
<line x1="282.30" y1="331.10" x2="283.50" y2="331.10" stroke="#333" stroke-width="0.4"/>
<text x="281.50" y="332.50" font-size="3.9" fill="#3c3c3c" text-anchor="end" textLength="5.42" lengthAdjust="spacingAndGlyphs">0.1</text>
<text x="320.80" y="353.90" font-size="4.7" fill="#1a1a1a" text-anchor="middle" textLength="11.30" lengthAdjust="spacingAndGlyphs">Week</text>
<text x="276.00" y="311.15" font-size="4.5" fill="#1a1a1a" text-anchor="middle" textLength="30.00" lengthAdjust="spacingAndGlyphs" transform="rotate(-90 276.00 311.15)">Abundance (%)</text>
<rect x="375.10" y="280.10" width="75.50" height="63.10" fill="#ffffff"/>
<line x1="385.95" y1="280.10" x2="385.95" y2="343.20" stroke="#efefef" stroke-width="0.4"/>
<line x1="400.25" y1="280.10" x2="400.25" y2="343.20" stroke="#efefef" stroke-width="0.4"/>
<line x1="414.55" y1="280.10" x2="414.55" y2="343.20" stroke="#efefef" stroke-width="0.4"/>
<line x1="428.85" y1="280.10" x2="428.85" y2="343.20" stroke="#efefef" stroke-width="0.4"/>
<line x1="443.15" y1="280.10" x2="443.15" y2="343.20" stroke="#efefef" stroke-width="0.4"/>
<line x1="375.10" y1="289.30" x2="450.60" y2="289.30" stroke="#efefef" stroke-width="0.4"/>
<line x1="375.10" y1="305.90" x2="450.60" y2="305.90" stroke="#efefef" stroke-width="0.4"/>
<line x1="375.10" y1="322.70" x2="450.60" y2="322.70" stroke="#efefef" stroke-width="0.4"/>
<line x1="378.80" y1="280.10" x2="378.80" y2="343.20" stroke="#e3e3e3" stroke-width="0.6"/>
<line x1="393.10" y1="280.10" x2="393.10" y2="343.20" stroke="#e3e3e3" stroke-width="0.6"/>
<line x1="407.40" y1="280.10" x2="407.40" y2="343.20" stroke="#e3e3e3" stroke-width="0.6"/>
<line x1="421.70" y1="280.10" x2="421.70" y2="343.20" stroke="#e3e3e3" stroke-width="0.6"/>
<line x1="436.00" y1="280.10" x2="436.00" y2="343.20" stroke="#e3e3e3" stroke-width="0.6"/>
<line x1="450.30" y1="280.10" x2="450.30" y2="343.20" stroke="#e3e3e3" stroke-width="0.6"/>
<line x1="375.10" y1="281.10" x2="450.60" y2="281.10" stroke="#e3e3e3" stroke-width="0.6"/>
<line x1="375.10" y1="297.50" x2="450.60" y2="297.50" stroke="#e3e3e3" stroke-width="0.6"/>
<line x1="375.10" y1="314.30" x2="450.60" y2="314.30" stroke="#e3e3e3" stroke-width="0.6"/>
<line x1="375.10" y1="331.10" x2="450.60" y2="331.10" stroke="#e3e3e3" stroke-width="0.6"/>
<clipPath id="cpAkk"><rect x="375.1" y="280.1" width="75.5" height="63.099999999999966"/></clipPath>
<g clip-path="url(#cpAkk)">
<path d="M379.16,295.99C380.03,296.45 382.58,297.54 384.39,298.78C386.19,300.03 388.12,301.74 389.99,303.45C391.85,305.16 393.72,307.49 395.58,309.04C397.45,310.60 399.31,311.69 401.18,312.78C403.04,313.86 404.91,314.64 406.78,315.57C408.64,316.51 410.51,316.97 412.37,318.37C414.24,319.77 416.10,322.42 417.97,323.97C419.84,325.52 421.70,327.08 423.57,327.70C425.43,328.32 426.99,327.86 429.16,327.70C431.34,327.55 434.45,327.08 436.63,326.77C438.80,326.46 440.45,325.99 442.22,325.84C444.00,325.68 446.42,325.84 447.26,325.84L447.26,338.90C446.42,338.83 444.00,338.52 442.22,338.52C440.45,338.52 438.80,338.68 436.63,338.90C434.45,339.11 431.34,339.67 429.16,339.83C426.99,339.98 425.43,340.29 423.57,339.83C421.70,339.36 419.84,338.27 417.97,337.03C416.10,335.79 414.24,333.92 412.37,332.37C410.51,330.81 408.64,328.79 406.78,327.70C404.91,326.61 403.04,326.77 401.18,325.84C399.31,324.90 397.45,323.50 395.58,322.10C393.72,320.71 391.85,319.00 389.99,317.44C388.12,315.89 386.19,314.02 384.39,312.78C382.58,311.53 380.03,310.44 379.16,309.98Z" fill="#8f8f8f" fill-opacity="0.38"/>
<path d="M379.16,287.59C380.35,288.37 383.83,291.17 386.25,292.25C388.68,293.34 391.23,293.96 393.72,294.12C396.20,294.27 399.00,293.19 401.18,293.19C403.36,293.19 404.91,293.50 406.78,294.12C408.64,294.74 410.51,295.99 412.37,296.92C414.24,297.85 416.10,298.94 417.97,299.72C419.84,300.49 421.70,301.21 423.57,301.58C425.43,301.96 426.99,301.64 429.16,301.96C431.34,302.27 434.45,303.14 436.63,303.45C438.80,303.76 440.45,303.98 442.22,303.82C444.00,303.67 446.42,302.73 447.26,302.51L447.26,316.51C446.42,316.35 444.00,316.04 442.22,315.57C440.45,315.11 438.80,314.18 436.63,313.71C434.45,313.24 431.34,313.09 429.16,312.78C426.99,312.47 425.43,312.31 423.57,311.84C421.70,311.38 419.84,310.60 417.97,309.98C416.10,309.36 414.24,308.73 412.37,308.11C410.51,307.49 408.64,306.77 406.78,306.25C404.91,305.72 403.36,305.34 401.18,304.94C399.00,304.54 396.20,304.07 393.72,303.82C391.23,303.57 388.68,303.51 386.25,303.45C383.83,303.39 380.35,303.45 379.16,303.45Z" fill="#8f8f8f" fill-opacity="0.38"/>
<path d="M379.16,283.86C379.72,284.32 381.34,285.26 382.52,286.66C383.70,288.06 385.01,290.08 386.25,292.25C387.50,294.43 388.74,297.38 389.99,299.72C391.23,302.05 392.47,304.38 393.72,306.25C394.96,308.11 396.20,309.82 397.45,310.91C398.69,312.00 399.62,312.62 401.18,312.78C402.73,312.93 404.60,311.69 406.78,311.84C408.95,312.00 411.75,313.55 414.24,313.71C416.73,313.86 419.68,312.93 421.70,312.78C423.72,312.62 424.97,312.47 426.37,312.78C427.76,313.09 428.70,313.55 430.10,314.64C431.50,315.73 433.05,317.75 434.76,319.31C436.47,320.86 438.80,322.88 440.36,323.97C441.91,325.06 442.94,325.52 444.09,325.84C445.24,326.15 446.73,325.84 447.26,325.84L447.26,340.76C446.73,340.61 445.24,340.29 444.09,339.83C442.94,339.36 441.91,338.90 440.36,337.96C438.80,337.03 436.47,335.48 434.76,334.23C433.05,332.99 431.50,331.53 430.10,330.50C428.70,329.47 427.76,328.54 426.37,328.07C424.97,327.61 423.72,327.76 421.70,327.70C419.68,327.64 416.73,327.76 414.24,327.70C411.75,327.64 408.95,327.33 406.78,327.33C404.60,327.33 402.73,328.11 401.18,327.70C399.62,327.30 398.69,326.15 397.45,324.90C396.20,323.66 394.96,322.10 393.72,320.24C392.47,318.37 391.23,316.04 389.99,313.71C388.74,311.38 387.50,308.42 386.25,306.25C385.01,304.07 383.70,302.05 382.52,300.65C381.34,299.25 379.72,298.32 379.16,297.85Z" fill="#8f8f8f" fill-opacity="0.38"/>
<path d="M379.16,302.89C380.03,303.29 382.58,304.13 384.39,305.31C386.19,306.50 388.12,308.36 389.99,309.98C391.85,311.59 393.72,313.55 395.58,315.01C397.45,316.48 399.31,317.72 401.18,318.75C403.04,319.77 404.91,320.15 406.78,321.17C408.64,322.20 410.51,323.35 412.37,324.90C414.24,326.46 416.10,329.04 417.97,330.50C419.84,331.96 421.70,333.14 423.57,333.67C425.43,334.20 426.99,333.80 429.16,333.67C431.34,333.55 434.45,333.14 436.63,332.93C438.80,332.71 440.45,332.46 442.22,332.37C444.00,332.27 446.42,332.37 447.26,332.37" fill="none" stroke="#999999" stroke-width="1.7" stroke-linecap="butt"/>
<path d="M379.16,297.48C380.35,297.54 383.83,297.63 386.25,297.85C388.68,298.07 391.23,298.53 393.72,298.78C396.20,299.03 399.16,299.13 401.18,299.34C403.20,299.56 404.29,299.65 405.84,300.09C407.40,300.52 408.80,301.18 410.51,301.96C412.22,302.73 414.24,303.98 416.10,304.75C417.97,305.53 419.84,306.22 421.70,306.62C423.57,307.02 425.12,306.87 427.30,307.18C429.48,307.49 432.58,308.11 434.76,308.49C436.94,308.86 438.27,309.11 440.36,309.42C442.44,309.73 446.11,310.20 447.26,310.35" fill="none" stroke="#333335" stroke-width="1.7" stroke-linecap="butt"/>
<path d="M379.16,290.76C379.72,291.17 381.34,291.85 382.52,293.19C383.70,294.52 385.01,296.61 386.25,298.78C387.50,300.96 388.74,303.91 389.99,306.25C391.23,308.58 392.47,310.91 393.72,312.78C394.96,314.64 396.20,316.26 397.45,317.44C398.69,318.62 399.62,319.43 401.18,319.87C402.73,320.30 404.60,320.02 406.78,320.05C408.95,320.08 411.75,320.05 414.24,320.05C416.73,320.05 419.68,320.02 421.70,320.05C423.72,320.08 424.97,319.90 426.37,320.24C427.76,320.58 428.70,321.17 430.10,322.10C431.50,323.04 433.05,324.53 434.76,325.84C436.47,327.14 438.80,328.85 440.36,329.94C441.91,331.03 442.94,331.81 444.09,332.37C445.24,332.93 446.73,333.14 447.26,333.30" fill="none" stroke="#9a3d9f" stroke-width="1.7" stroke-linecap="butt"/>
</g>
<rect x="375.10" y="280.10" width="75.50" height="63.10" fill="none" stroke="#6a6a6a" stroke-width="0.5"/>
<text x="377.00" y="277.20" font-size="5.6" fill="#1a1a1a" textLength="40.10" lengthAdjust="spacingAndGlyphs">g__Akkermansia</text>
<line x1="378.80" y1="343.20" x2="378.80" y2="344.40" stroke="#333" stroke-width="0.4"/>
<text x="378.80" y="349.00" font-size="3.9" fill="#3c3c3c" text-anchor="middle" textLength="5.42" lengthAdjust="spacingAndGlyphs">0.0</text>
<line x1="393.10" y1="343.20" x2="393.10" y2="344.40" stroke="#333" stroke-width="0.4"/>
<text x="393.10" y="349.00" font-size="3.9" fill="#3c3c3c" text-anchor="middle" textLength="5.42" lengthAdjust="spacingAndGlyphs">2.5</text>
<line x1="407.40" y1="343.20" x2="407.40" y2="344.40" stroke="#333" stroke-width="0.4"/>
<text x="407.40" y="349.00" font-size="3.9" fill="#3c3c3c" text-anchor="middle" textLength="5.42" lengthAdjust="spacingAndGlyphs">5.0</text>
<line x1="421.70" y1="343.20" x2="421.70" y2="344.40" stroke="#333" stroke-width="0.4"/>
<text x="421.70" y="349.00" font-size="3.9" fill="#3c3c3c" text-anchor="middle" textLength="5.42" lengthAdjust="spacingAndGlyphs">7.5</text>
<line x1="436.00" y1="343.20" x2="436.00" y2="344.40" stroke="#333" stroke-width="0.4"/>
<text x="436.00" y="349.00" font-size="3.9" fill="#3c3c3c" text-anchor="middle" textLength="7.59" lengthAdjust="spacingAndGlyphs">10.0</text>
<line x1="450.30" y1="343.20" x2="450.30" y2="344.40" stroke="#333" stroke-width="0.4"/>
<text x="450.30" y="349.00" font-size="3.9" fill="#3c3c3c" text-anchor="middle" textLength="7.59" lengthAdjust="spacingAndGlyphs">12.5</text>
<line x1="373.90" y1="281.10" x2="375.10" y2="281.10" stroke="#333" stroke-width="0.4"/>
<text x="373.10" y="282.50" font-size="3.9" fill="#3c3c3c" text-anchor="end" textLength="4.34" lengthAdjust="spacingAndGlyphs">40</text>
<line x1="373.90" y1="297.50" x2="375.10" y2="297.50" stroke="#333" stroke-width="0.4"/>
<text x="373.10" y="298.90" font-size="3.9" fill="#3c3c3c" text-anchor="end" textLength="4.34" lengthAdjust="spacingAndGlyphs">30</text>
<line x1="373.90" y1="314.30" x2="375.10" y2="314.30" stroke="#333" stroke-width="0.4"/>
<text x="373.10" y="315.70" font-size="3.9" fill="#3c3c3c" text-anchor="end" textLength="4.34" lengthAdjust="spacingAndGlyphs">20</text>
<line x1="373.90" y1="331.10" x2="375.10" y2="331.10" stroke="#333" stroke-width="0.4"/>
<text x="373.10" y="332.50" font-size="3.9" fill="#3c3c3c" text-anchor="end" textLength="4.34" lengthAdjust="spacingAndGlyphs">10</text>
<text x="413.00" y="354.10" font-size="4.7" fill="#1a1a1a" text-anchor="middle" textLength="11.30" lengthAdjust="spacingAndGlyphs">Week</text>
<text x="366.90" y="312.15" font-size="4.5" fill="#1a1a1a" text-anchor="middle" textLength="30.00" lengthAdjust="spacingAndGlyphs" transform="rotate(-90 366.90 312.15)">Abundance (%)</text>
<rect x="283.90" y="366.00" width="74.60" height="64.40" fill="#ffffff"/>
<line x1="294.30" y1="366.00" x2="294.30" y2="430.40" stroke="#efefef" stroke-width="0.4"/>
<line x1="308.50" y1="366.00" x2="308.50" y2="430.40" stroke="#efefef" stroke-width="0.4"/>
<line x1="322.70" y1="366.00" x2="322.70" y2="430.40" stroke="#efefef" stroke-width="0.4"/>
<line x1="336.90" y1="366.00" x2="336.90" y2="430.40" stroke="#efefef" stroke-width="0.4"/>
<line x1="351.10" y1="366.00" x2="351.10" y2="430.40" stroke="#efefef" stroke-width="0.4"/>
<line x1="283.90" y1="389.15" x2="358.50" y2="389.15" stroke="#efefef" stroke-width="0.4"/>
<line x1="283.90" y1="404.55" x2="358.50" y2="404.55" stroke="#efefef" stroke-width="0.4"/>
<line x1="283.90" y1="419.95" x2="358.50" y2="419.95" stroke="#efefef" stroke-width="0.4"/>
<line x1="287.20" y1="366.00" x2="287.20" y2="430.40" stroke="#e3e3e3" stroke-width="0.6"/>
<line x1="301.40" y1="366.00" x2="301.40" y2="430.40" stroke="#e3e3e3" stroke-width="0.6"/>
<line x1="315.60" y1="366.00" x2="315.60" y2="430.40" stroke="#e3e3e3" stroke-width="0.6"/>
<line x1="329.80" y1="366.00" x2="329.80" y2="430.40" stroke="#e3e3e3" stroke-width="0.6"/>
<line x1="344.00" y1="366.00" x2="344.00" y2="430.40" stroke="#e3e3e3" stroke-width="0.6"/>
<line x1="358.20" y1="366.00" x2="358.20" y2="430.40" stroke="#e3e3e3" stroke-width="0.6"/>
<line x1="283.90" y1="381.50" x2="358.50" y2="381.50" stroke="#e3e3e3" stroke-width="0.6"/>
<line x1="283.90" y1="396.80" x2="358.50" y2="396.80" stroke="#e3e3e3" stroke-width="0.6"/>
<line x1="283.90" y1="412.30" x2="358.50" y2="412.30" stroke="#e3e3e3" stroke-width="0.6"/>
<line x1="283.90" y1="427.60" x2="358.50" y2="427.60" stroke="#e3e3e3" stroke-width="0.6"/>
<clipPath id="cpClo"><rect x="283.9" y="366.0" width="74.60000000000002" height="64.39999999999998"/></clipPath>
<g clip-path="url(#cpClo)">
<path d="M287.22,389.31C288.06,390.00 290.48,391.93 292.25,393.42C294.03,394.91 295.99,397.15 297.85,398.27C299.72,399.39 301.58,399.82 303.45,400.13C305.31,400.45 307.18,400.54 309.04,400.13C310.91,399.73 313.09,399.05 314.64,397.71C316.20,396.37 317.13,394.13 318.37,392.11C319.62,390.09 320.86,387.60 322.10,385.58C323.35,383.56 324.44,381.54 325.84,379.99C327.24,378.43 328.95,376.88 330.50,376.25C332.05,375.63 333.45,376.32 335.16,376.25C336.87,376.19 338.90,376.19 340.76,375.88C342.63,375.57 344.80,375.10 346.36,374.39C347.91,373.67 348.78,372.46 350.09,371.59C351.40,370.72 353.51,369.57 354.19,369.16L354.19,390.25C353.51,390.25 351.40,390.09 350.09,390.25C348.78,390.40 347.91,390.71 346.36,391.18C344.80,391.65 342.63,392.36 340.76,393.04C338.90,393.73 336.87,394.82 335.16,395.28C333.45,395.75 332.05,395.28 330.50,395.84C328.95,396.40 327.24,397.40 325.84,398.64C324.44,399.89 323.35,401.60 322.10,403.31C320.86,405.02 319.62,407.35 318.37,408.90C317.13,410.46 316.20,411.86 314.64,412.63C313.09,413.41 310.91,413.66 309.04,413.57C307.18,413.47 305.31,412.54 303.45,412.07C301.58,411.61 299.72,411.30 297.85,410.77C295.99,410.24 294.03,409.52 292.25,408.90C290.48,408.28 288.06,407.35 287.22,407.04Z" fill="#8f8f8f" fill-opacity="0.38"/>
<path d="M287.22,388.38C288.06,389.00 290.48,390.71 292.25,392.11C294.03,393.51 295.99,395.38 297.85,396.78C299.72,398.18 301.58,399.73 303.45,400.51C305.31,401.28 307.18,401.60 309.04,401.44C310.91,401.28 312.78,400.04 314.64,399.57C316.51,399.11 318.37,398.95 320.24,398.64C322.10,398.33 323.97,398.02 325.84,397.71C327.70,397.40 329.57,396.93 331.43,396.78C333.30,396.62 335.16,396.93 337.03,396.78C338.90,396.62 340.76,396.31 342.63,395.84C344.49,395.38 346.30,394.60 348.22,393.98C350.15,393.36 353.20,392.42 354.19,392.11L354.19,405.17C353.20,405.39 350.15,406.01 348.22,406.48C346.30,406.94 344.49,407.41 342.63,407.97C340.76,408.53 338.90,409.52 337.03,409.84C335.16,410.15 333.30,409.77 331.43,409.84C329.57,409.90 327.70,409.90 325.84,410.21C323.97,410.52 322.10,411.30 320.24,411.70C318.37,412.11 316.51,412.48 314.64,412.63C312.78,412.79 310.91,412.95 309.04,412.63C307.18,412.32 305.31,411.55 303.45,410.77C301.58,409.99 299.72,408.90 297.85,407.97C295.99,407.04 294.03,405.95 292.25,405.17C290.48,404.39 288.06,403.62 287.22,403.31Z" fill="#8f8f8f" fill-opacity="0.38"/>
<path d="M287.22,399.57C288.06,399.89 290.48,400.60 292.25,401.44C294.03,402.28 295.99,403.68 297.85,404.61C299.72,405.54 301.58,406.48 303.45,407.04C305.31,407.60 307.18,407.66 309.04,407.97C310.91,408.28 312.78,408.28 314.64,408.90C316.51,409.52 318.37,410.77 320.24,411.70C322.10,412.63 323.97,413.72 325.84,414.50C327.70,415.28 329.57,415.90 331.43,416.37C333.30,416.83 335.16,417.14 337.03,417.30C338.90,417.45 340.76,417.36 342.63,417.30C344.49,417.24 346.30,417.08 348.22,416.93C350.15,416.77 353.20,416.46 354.19,416.37L354.19,427.56C353.20,427.40 350.15,426.78 348.22,426.63C346.30,426.47 344.49,426.47 342.63,426.63C340.76,426.78 338.90,427.31 337.03,427.56C335.16,427.81 333.30,428.27 331.43,428.12C329.57,427.96 327.70,427.34 325.84,426.63C323.97,425.91 322.10,424.61 320.24,423.83C318.37,423.05 316.51,422.49 314.64,421.96C312.78,421.43 310.91,421.19 309.04,420.66C307.18,420.13 305.31,419.51 303.45,418.79C301.58,418.08 299.72,417.30 297.85,416.37C295.99,415.43 294.03,414.03 292.25,413.19C290.48,412.35 288.06,411.64 287.22,411.33Z" fill="#8f8f8f" fill-opacity="0.38"/>
<path d="M287.22,398.64C288.06,399.01 290.48,400.01 292.25,400.88C294.03,401.75 295.99,402.93 297.85,403.87C299.72,404.80 301.58,405.86 303.45,406.48C305.31,407.10 307.18,407.66 309.04,407.60C310.91,407.53 313.09,407.13 314.64,406.10C316.20,405.08 317.13,403.31 318.37,401.44C319.62,399.57 320.86,396.78 322.10,394.91C323.35,393.04 324.44,391.65 325.84,390.25C327.24,388.85 328.95,387.20 330.50,386.51C332.05,385.83 333.45,386.45 335.16,386.14C336.87,385.83 338.90,385.21 340.76,384.65C342.63,384.09 344.80,383.41 346.36,382.78C347.91,382.16 348.78,381.48 350.09,380.92C351.40,380.36 353.51,379.67 354.19,379.43" fill="none" stroke="#999999" stroke-width="1.7" stroke-linecap="butt"/>
<path d="M287.22,396.22C288.06,396.62 290.48,397.62 292.25,398.64C294.03,399.67 295.99,401.19 297.85,402.37C299.72,403.55 301.58,404.89 303.45,405.73C305.31,406.57 307.18,407.19 309.04,407.41C310.91,407.63 312.78,407.32 314.64,407.04C316.51,406.76 318.37,406.14 320.24,405.73C322.10,405.33 323.97,404.92 325.84,404.61C327.70,404.30 329.57,404.05 331.43,403.87C333.30,403.68 335.16,403.80 337.03,403.49C338.90,403.18 340.76,402.50 342.63,402.00C344.49,401.50 346.30,400.97 348.22,400.51C350.15,400.04 353.20,399.42 354.19,399.20" fill="none" stroke="#333335" stroke-width="1.7" stroke-linecap="butt"/>
<path d="M287.22,405.73C288.06,406.04 290.48,406.76 292.25,407.60C294.03,408.44 295.99,409.84 297.85,410.77C299.72,411.70 301.58,412.57 303.45,413.19C305.31,413.82 307.18,414.13 309.04,414.50C310.91,414.87 312.78,414.81 314.64,415.43C316.51,416.05 318.37,417.30 320.24,418.23C322.10,419.16 323.97,420.31 325.84,421.03C327.70,421.75 329.57,422.27 331.43,422.52C333.30,422.77 335.16,422.52 337.03,422.52C338.90,422.52 340.76,422.52 342.63,422.52C344.49,422.52 346.30,422.52 348.22,422.52C350.15,422.52 353.20,422.52 354.19,422.52" fill="none" stroke="#9a3d9f" stroke-width="1.7" stroke-linecap="butt"/>
</g>
<rect x="283.90" y="366.00" width="74.60" height="64.40" fill="none" stroke="#6a6a6a" stroke-width="0.5"/>
<text x="285.20" y="363.10" font-size="5.6" fill="#1a1a1a" textLength="35.60" lengthAdjust="spacingAndGlyphs">g__Clostridium</text>
<line x1="287.20" y1="430.40" x2="287.20" y2="431.60" stroke="#333" stroke-width="0.4"/>
<text x="287.20" y="436.20" font-size="3.9" fill="#3c3c3c" text-anchor="middle" textLength="5.42" lengthAdjust="spacingAndGlyphs">0.0</text>
<line x1="301.40" y1="430.40" x2="301.40" y2="431.60" stroke="#333" stroke-width="0.4"/>
<text x="301.40" y="436.20" font-size="3.9" fill="#3c3c3c" text-anchor="middle" textLength="5.42" lengthAdjust="spacingAndGlyphs">2.5</text>
<line x1="315.60" y1="430.40" x2="315.60" y2="431.60" stroke="#333" stroke-width="0.4"/>
<text x="315.60" y="436.20" font-size="3.9" fill="#3c3c3c" text-anchor="middle" textLength="5.42" lengthAdjust="spacingAndGlyphs">5.0</text>
<line x1="329.80" y1="430.40" x2="329.80" y2="431.60" stroke="#333" stroke-width="0.4"/>
<text x="329.80" y="436.20" font-size="3.9" fill="#3c3c3c" text-anchor="middle" textLength="5.42" lengthAdjust="spacingAndGlyphs">7.5</text>
<line x1="344.00" y1="430.40" x2="344.00" y2="431.60" stroke="#333" stroke-width="0.4"/>
<text x="344.00" y="436.20" font-size="3.9" fill="#3c3c3c" text-anchor="middle" textLength="7.59" lengthAdjust="spacingAndGlyphs">10.0</text>
<line x1="358.20" y1="430.40" x2="358.20" y2="431.60" stroke="#333" stroke-width="0.4"/>
<text x="358.20" y="436.20" font-size="3.9" fill="#3c3c3c" text-anchor="middle" textLength="7.59" lengthAdjust="spacingAndGlyphs">12.5</text>
<line x1="282.70" y1="381.50" x2="283.90" y2="381.50" stroke="#333" stroke-width="0.4"/>
<text x="281.90" y="382.90" font-size="3.9" fill="#3c3c3c" text-anchor="end" textLength="5.42" lengthAdjust="spacingAndGlyphs">7.5</text>
<line x1="282.70" y1="396.80" x2="283.90" y2="396.80" stroke="#333" stroke-width="0.4"/>
<text x="281.90" y="398.20" font-size="3.9" fill="#3c3c3c" text-anchor="end" textLength="5.42" lengthAdjust="spacingAndGlyphs">5.0</text>
<line x1="282.70" y1="412.30" x2="283.90" y2="412.30" stroke="#333" stroke-width="0.4"/>
<text x="281.90" y="413.70" font-size="3.9" fill="#3c3c3c" text-anchor="end" textLength="5.42" lengthAdjust="spacingAndGlyphs">2.5</text>
<line x1="282.70" y1="427.60" x2="283.90" y2="427.60" stroke="#333" stroke-width="0.4"/>
<text x="281.90" y="429.00" font-size="3.9" fill="#3c3c3c" text-anchor="end" textLength="5.42" lengthAdjust="spacingAndGlyphs">0.0</text>
<text x="320.80" y="441.30" font-size="4.7" fill="#1a1a1a" text-anchor="middle" textLength="11.30" lengthAdjust="spacingAndGlyphs">Week</text>
<text x="276.00" y="398.70" font-size="4.5" fill="#1a1a1a" text-anchor="middle" textLength="30.00" lengthAdjust="spacingAndGlyphs" transform="rotate(-90 276.00 398.70)">Abundance (%)</text>
<rect x="375.40" y="366.00" width="75.60" height="64.40" fill="#ffffff"/>
<line x1="385.98" y1="366.00" x2="385.98" y2="430.40" stroke="#efefef" stroke-width="0.4"/>
<line x1="400.33" y1="366.00" x2="400.33" y2="430.40" stroke="#efefef" stroke-width="0.4"/>
<line x1="414.68" y1="366.00" x2="414.68" y2="430.40" stroke="#efefef" stroke-width="0.4"/>
<line x1="429.02" y1="366.00" x2="429.02" y2="430.40" stroke="#efefef" stroke-width="0.4"/>
<line x1="443.38" y1="366.00" x2="443.38" y2="430.40" stroke="#efefef" stroke-width="0.4"/>
<line x1="375.40" y1="394.00" x2="451.00" y2="394.00" stroke="#efefef" stroke-width="0.4"/>
<line x1="375.40" y1="415.70" x2="451.00" y2="415.70" stroke="#efefef" stroke-width="0.4"/>
<line x1="378.80" y1="366.00" x2="378.80" y2="430.40" stroke="#e3e3e3" stroke-width="0.6"/>
<line x1="393.15" y1="366.00" x2="393.15" y2="430.40" stroke="#e3e3e3" stroke-width="0.6"/>
<line x1="407.50" y1="366.00" x2="407.50" y2="430.40" stroke="#e3e3e3" stroke-width="0.6"/>
<line x1="421.85" y1="366.00" x2="421.85" y2="430.40" stroke="#e3e3e3" stroke-width="0.6"/>
<line x1="436.20" y1="366.00" x2="436.20" y2="430.40" stroke="#e3e3e3" stroke-width="0.6"/>
<line x1="450.55" y1="366.00" x2="450.55" y2="430.40" stroke="#e3e3e3" stroke-width="0.6"/>
<line x1="375.40" y1="383.20" x2="451.00" y2="383.20" stroke="#e3e3e3" stroke-width="0.6"/>
<line x1="375.40" y1="404.80" x2="451.00" y2="404.80" stroke="#e3e3e3" stroke-width="0.6"/>
<line x1="375.40" y1="426.60" x2="451.00" y2="426.60" stroke="#e3e3e3" stroke-width="0.6"/>
<clipPath id="cpAll"><rect x="375.4" y="366.0" width="75.60000000000002" height="64.39999999999998"/></clipPath>
<g clip-path="url(#cpAll)">
<path d="M379.16,409.84C380.03,409.06 382.58,407.35 384.39,405.17C386.19,403.00 388.12,399.26 389.99,396.78C391.85,394.29 393.87,391.74 395.58,390.25C397.29,388.75 398.69,388.13 400.25,387.82C401.80,387.51 403.20,388.60 404.91,388.38C406.62,388.16 408.64,387.45 410.51,386.51C412.37,385.58 414.24,384.03 416.10,382.78C417.97,381.54 419.99,379.67 421.70,379.05C423.41,378.43 424.81,378.59 426.37,379.05C427.92,379.52 429.48,380.76 431.03,381.85C432.58,382.94 434.14,384.49 435.69,385.58C437.25,386.67 438.96,387.82 440.36,388.38C441.76,388.94 442.94,388.85 444.09,388.94C445.24,389.03 446.73,388.94 447.26,388.94L447.26,403.31C446.73,403.00 445.24,402.06 444.09,401.44C442.94,400.82 441.76,400.35 440.36,399.57C438.96,398.80 437.25,397.49 435.69,396.78C434.14,396.06 432.58,395.75 431.03,395.28C429.48,394.82 427.92,394.20 426.37,393.98C424.81,393.76 423.41,393.51 421.70,393.98C419.99,394.44 417.97,395.84 416.10,396.78C414.24,397.71 412.37,398.64 410.51,399.57C408.64,400.51 406.62,401.75 404.91,402.37C403.20,403.00 401.80,402.84 400.25,403.31C398.69,403.77 397.29,403.93 395.58,405.17C393.87,406.42 391.85,408.75 389.99,410.77C388.12,412.79 386.19,415.43 384.39,417.30C382.58,419.16 380.03,421.19 379.16,421.96Z" fill="#8f8f8f" fill-opacity="0.38"/>
<path d="M379.16,423.27C380.35,423.02 383.83,422.24 386.25,421.78C388.68,421.31 391.23,420.78 393.72,420.47C396.20,420.16 398.69,420.10 401.18,419.91C403.67,419.72 406.15,419.66 408.64,419.35C411.13,419.04 413.93,418.42 416.10,418.04C418.28,417.67 419.84,417.27 421.70,417.11C423.57,416.96 425.43,417.36 427.30,417.11C429.16,416.86 431.03,416.18 432.90,415.62C434.76,415.06 436.78,414.28 438.49,413.75C440.20,413.23 441.70,412.82 443.16,412.45C444.62,412.07 446.58,411.67 447.26,411.51L447.26,415.43C446.58,415.59 444.62,415.99 443.16,416.37C441.70,416.74 440.20,417.14 438.49,417.67C436.78,418.20 434.76,418.98 432.90,419.54C431.03,420.10 429.16,420.78 427.30,421.03C425.43,421.28 423.57,420.87 421.70,421.03C419.84,421.19 418.28,421.59 416.10,421.96C413.93,422.34 411.13,422.96 408.64,423.27C406.15,423.58 403.67,423.64 401.18,423.83C398.69,424.01 396.20,424.08 393.72,424.39C391.23,424.70 388.68,425.23 386.25,425.69C383.83,426.16 380.35,426.94 379.16,427.19Z" fill="#8f8f8f" fill-opacity="0.38"/>
<path d="M379.16,414.50C380.03,413.72 382.58,411.70 384.39,409.84C386.19,407.97 388.12,405.17 389.99,403.31C391.85,401.44 393.87,399.79 395.58,398.64C397.29,397.49 398.69,396.87 400.25,396.40C401.80,395.94 403.20,396.25 404.91,395.84C406.62,395.44 408.64,394.60 410.51,393.98C412.37,393.36 414.24,392.73 416.10,392.11C417.97,391.49 419.99,390.71 421.70,390.25C423.41,389.78 424.81,389.78 426.37,389.31C427.92,388.85 429.48,388.54 431.03,387.45C432.58,386.36 434.14,384.65 435.69,382.78C437.25,380.92 438.96,378.12 440.36,376.25C441.76,374.39 442.94,372.77 444.09,371.59C445.24,370.41 446.73,369.57 447.26,369.16L447.26,384.65C446.73,384.80 445.24,384.96 444.09,385.58C442.94,386.20 441.76,387.14 440.36,388.38C438.96,389.62 437.25,391.49 435.69,393.04C434.14,394.60 432.58,396.53 431.03,397.71C429.48,398.89 427.92,399.67 426.37,400.13C424.81,400.60 423.41,400.20 421.70,400.51C419.99,400.82 417.97,401.44 416.10,402.00C414.24,402.56 412.37,403.24 410.51,403.87C408.64,404.49 406.62,405.36 404.91,405.73C403.20,406.10 401.80,405.73 400.25,406.10C398.69,406.48 397.29,406.88 395.58,407.97C393.87,409.06 391.85,410.77 389.99,412.63C388.12,414.50 386.19,417.30 384.39,419.16C382.58,421.03 380.03,423.05 379.16,423.83Z" fill="#8f8f8f" fill-opacity="0.38"/>
<path d="M379.16,416.37C380.03,415.53 382.58,413.41 384.39,411.33C386.19,409.25 388.12,406.04 389.99,403.87C391.85,401.69 393.87,399.61 395.58,398.27C397.29,396.93 398.69,396.34 400.25,395.84C401.80,395.35 403.20,395.91 404.91,395.28C406.62,394.66 408.64,393.17 410.51,392.11C412.37,391.05 414.24,389.87 416.10,388.94C417.97,388.01 419.99,386.98 421.70,386.51C423.41,386.05 424.81,385.83 426.37,386.14C427.92,386.45 429.48,387.54 431.03,388.38C432.58,389.22 434.14,390.25 435.69,391.18C437.25,392.11 438.96,393.26 440.36,393.98C441.76,394.69 442.94,395.07 444.09,395.47C445.24,395.87 446.73,396.25 447.26,396.40" fill="none" stroke="#999999" stroke-width="1.7" stroke-linecap="butt"/>
<path d="M379.16,425.32C380.35,425.07 383.83,424.29 386.25,423.83C388.68,423.36 391.23,422.83 393.72,422.52C396.20,422.21 398.69,422.15 401.18,421.96C403.67,421.78 406.15,421.71 408.64,421.40C411.13,421.09 413.93,420.47 416.10,420.10C418.28,419.72 419.84,419.32 421.70,419.16C423.57,419.01 425.43,419.41 427.30,419.16C429.16,418.92 431.03,418.23 432.90,417.67C434.76,417.11 436.78,416.33 438.49,415.81C440.20,415.28 441.70,414.87 443.16,414.50C444.62,414.13 446.58,413.72 447.26,413.57" fill="none" stroke="#333335" stroke-width="1.7" stroke-linecap="butt"/>
<path d="M379.16,419.16C380.03,418.39 382.58,416.37 384.39,414.50C386.19,412.63 388.12,409.84 389.99,407.97C391.85,406.10 393.87,404.46 395.58,403.31C397.29,402.16 398.69,401.53 400.25,401.07C401.80,400.60 403.20,400.91 404.91,400.51C406.62,400.10 408.64,399.26 410.51,398.64C412.37,398.02 414.24,397.40 416.10,396.78C417.97,396.15 419.99,395.28 421.70,394.91C423.41,394.54 424.81,395.00 426.37,394.54C427.92,394.07 429.48,393.29 431.03,392.11C432.58,390.93 434.14,389.16 435.69,387.45C437.25,385.74 438.96,383.41 440.36,381.85C441.76,380.30 442.94,379.05 444.09,378.12C445.24,377.19 446.73,376.56 447.26,376.25" fill="none" stroke="#9a3d9f" stroke-width="1.7" stroke-linecap="butt"/>
</g>
<rect x="375.40" y="366.00" width="75.60" height="64.40" fill="none" stroke="#6a6a6a" stroke-width="0.5"/>
<text x="377.00" y="363.10" font-size="5.6" fill="#1a1a1a" textLength="37.90" lengthAdjust="spacingAndGlyphs">g__Allobaculum</text>
<line x1="378.80" y1="430.40" x2="378.80" y2="431.60" stroke="#333" stroke-width="0.4"/>
<text x="378.80" y="436.20" font-size="3.9" fill="#3c3c3c" text-anchor="middle" textLength="5.42" lengthAdjust="spacingAndGlyphs">0.0</text>
<line x1="393.15" y1="430.40" x2="393.15" y2="431.60" stroke="#333" stroke-width="0.4"/>
<text x="393.15" y="436.20" font-size="3.9" fill="#3c3c3c" text-anchor="middle" textLength="5.42" lengthAdjust="spacingAndGlyphs">2.5</text>
<line x1="407.50" y1="430.40" x2="407.50" y2="431.60" stroke="#333" stroke-width="0.4"/>
<text x="407.50" y="436.20" font-size="3.9" fill="#3c3c3c" text-anchor="middle" textLength="5.42" lengthAdjust="spacingAndGlyphs">5.0</text>
<line x1="421.85" y1="430.40" x2="421.85" y2="431.60" stroke="#333" stroke-width="0.4"/>
<text x="421.85" y="436.20" font-size="3.9" fill="#3c3c3c" text-anchor="middle" textLength="5.42" lengthAdjust="spacingAndGlyphs">7.5</text>
<line x1="436.20" y1="430.40" x2="436.20" y2="431.60" stroke="#333" stroke-width="0.4"/>
<text x="436.20" y="436.20" font-size="3.9" fill="#3c3c3c" text-anchor="middle" textLength="7.59" lengthAdjust="spacingAndGlyphs">10.0</text>
<line x1="450.55" y1="430.40" x2="450.55" y2="431.60" stroke="#333" stroke-width="0.4"/>
<text x="450.55" y="436.20" font-size="3.9" fill="#3c3c3c" text-anchor="middle" textLength="7.59" lengthAdjust="spacingAndGlyphs">12.5</text>
<line x1="374.20" y1="383.20" x2="375.40" y2="383.20" stroke="#333" stroke-width="0.4"/>
<text x="373.40" y="384.60" font-size="3.9" fill="#3c3c3c" text-anchor="end" textLength="4.34" lengthAdjust="spacingAndGlyphs">40</text>
<line x1="374.20" y1="404.80" x2="375.40" y2="404.80" stroke="#333" stroke-width="0.4"/>
<text x="373.40" y="406.20" font-size="3.9" fill="#3c3c3c" text-anchor="end" textLength="4.34" lengthAdjust="spacingAndGlyphs">20</text>
<line x1="374.20" y1="426.60" x2="375.40" y2="426.60" stroke="#333" stroke-width="0.4"/>
<text x="373.40" y="428.00" font-size="3.9" fill="#3c3c3c" text-anchor="end" textLength="2.17" lengthAdjust="spacingAndGlyphs">0</text>
<text x="413.00" y="441.30" font-size="4.7" fill="#1a1a1a" text-anchor="middle" textLength="11.30" lengthAdjust="spacingAndGlyphs">Week</text>
<text x="366.90" y="398.70" font-size="4.5" fill="#1a1a1a" text-anchor="middle" textLength="30.00" lengthAdjust="spacingAndGlyphs" transform="rotate(-90 366.90 398.70)">Abundance (%)</text>
<circle cx="287.90" cy="448.10" r="3.65" fill="#9a3d9f"/>
<text x="294.80" y="450.55" font-size="6.6" fill="#1a1617" textLength="29.00" lengthAdjust="spacingAndGlyphs">HFD+Lyso</text>
<circle cx="287.90" cy="457.00" r="3.65" fill="#3b3b3d"/>
<text x="294.80" y="459.45" font-size="6.6" fill="#1a1617" textLength="36.90" lengthAdjust="spacingAndGlyphs">HFD+Vehicle</text>
<circle cx="287.90" cy="465.90" r="3.65" fill="#9c9c9c"/>
<text x="294.80" y="468.35" font-size="6.6" fill="#1a1617" textLength="35.40" lengthAdjust="spacingAndGlyphs">LFD+Vehicle</text>
<rect x="502.60" y="271.50" width="157.20" height="170.40" fill="#ffffff"/>
<line x1="521.95" y1="271.50" x2="521.95" y2="441.90" stroke="#efefef" stroke-width="0.4"/>
<line x1="558.65" y1="271.50" x2="558.65" y2="441.90" stroke="#efefef" stroke-width="0.4"/>
<line x1="595.35" y1="271.50" x2="595.35" y2="441.90" stroke="#efefef" stroke-width="0.4"/>
<line x1="632.05" y1="271.50" x2="632.05" y2="441.90" stroke="#efefef" stroke-width="0.4"/>
<line x1="502.60" y1="282.65" x2="659.80" y2="282.65" stroke="#efefef" stroke-width="0.4"/>
<line x1="502.60" y1="316.35" x2="659.80" y2="316.35" stroke="#efefef" stroke-width="0.4"/>
<line x1="502.60" y1="350.05" x2="659.80" y2="350.05" stroke="#efefef" stroke-width="0.4"/>
<line x1="502.60" y1="383.75" x2="659.80" y2="383.75" stroke="#efefef" stroke-width="0.4"/>
<line x1="502.60" y1="417.45" x2="659.80" y2="417.45" stroke="#efefef" stroke-width="0.4"/>
<line x1="503.60" y1="271.50" x2="503.60" y2="441.90" stroke="#e3e3e3" stroke-width="0.6"/>
<line x1="540.30" y1="271.50" x2="540.30" y2="441.90" stroke="#e3e3e3" stroke-width="0.6"/>
<line x1="577.00" y1="271.50" x2="577.00" y2="441.90" stroke="#e3e3e3" stroke-width="0.6"/>
<line x1="613.70" y1="271.50" x2="613.70" y2="441.90" stroke="#e3e3e3" stroke-width="0.6"/>
<line x1="650.40" y1="271.50" x2="650.40" y2="441.90" stroke="#e3e3e3" stroke-width="0.6"/>
<line x1="502.60" y1="299.50" x2="659.80" y2="299.50" stroke="#e3e3e3" stroke-width="0.6"/>
<line x1="502.60" y1="333.20" x2="659.80" y2="333.20" stroke="#e3e3e3" stroke-width="0.6"/>
<line x1="502.60" y1="366.90" x2="659.80" y2="366.90" stroke="#e3e3e3" stroke-width="0.6"/>
<line x1="502.60" y1="400.60" x2="659.80" y2="400.60" stroke="#e3e3e3" stroke-width="0.6"/>
<line x1="502.60" y1="434.30" x2="659.80" y2="434.30" stroke="#e3e3e3" stroke-width="0.6"/>
<g stroke-linecap="round">
<line x1="559.30" y1="393.80" x2="518.40" y2="373.10" stroke="#858585" stroke-width="0.75"/>
<line x1="559.30" y1="393.80" x2="536.50" y2="389.20" stroke="#858585" stroke-width="0.75"/>
<line x1="559.30" y1="393.80" x2="536.80" y2="399.80" stroke="#858585" stroke-width="0.75"/>
<line x1="559.30" y1="393.80" x2="562.40" y2="417.70" stroke="#858585" stroke-width="0.75"/>
<line x1="559.30" y1="393.80" x2="576.90" y2="418.40" stroke="#858585" stroke-width="0.75"/>
<line x1="559.30" y1="393.80" x2="583.20" y2="418.40" stroke="#858585" stroke-width="0.75"/>
<line x1="559.30" y1="393.80" x2="586.50" y2="429.60" stroke="#858585" stroke-width="0.75"/>
<line x1="559.30" y1="393.80" x2="619.70" y2="391.80" stroke="#858585" stroke-width="0.75"/>
<line x1="559.30" y1="393.80" x2="509.40" y2="344.30" stroke="#858585" stroke-width="0.75"/>
<line x1="559.30" y1="393.80" x2="511.40" y2="346.40" stroke="#858585" stroke-width="0.75"/>
<circle cx="518.40" cy="373.10" r="1.7" fill="#a3a3a3"/>
<circle cx="536.50" cy="389.20" r="1.7" fill="#a3a3a3"/>
<circle cx="536.80" cy="399.80" r="1.7" fill="#a3a3a3"/>
<circle cx="562.40" cy="417.70" r="1.7" fill="#a3a3a3"/>
<circle cx="576.90" cy="418.40" r="1.7" fill="#a3a3a3"/>
<circle cx="583.20" cy="418.40" r="1.7" fill="#a3a3a3"/>
<circle cx="586.50" cy="429.60" r="1.7" fill="#a3a3a3"/>
<circle cx="619.70" cy="391.80" r="1.7" fill="#a3a3a3"/>
<circle cx="509.40" cy="344.30" r="1.7" fill="#a3a3a3"/>
<circle cx="511.40" cy="346.40" r="1.7" fill="#a3a3a3"/>
<line x1="563.00" y1="396.00" x2="514.80" y2="365.90" stroke="#2e2e30" stroke-width="0.9"/>
<line x1="563.00" y1="396.00" x2="528.30" y2="381.70" stroke="#2e2e30" stroke-width="0.9"/>
<line x1="563.00" y1="396.00" x2="529.60" y2="383.50" stroke="#2e2e30" stroke-width="0.9"/>
<line x1="563.00" y1="396.00" x2="540.40" y2="398.50" stroke="#2e2e30" stroke-width="0.9"/>
<line x1="563.00" y1="396.00" x2="548.20" y2="415.10" stroke="#2e2e30" stroke-width="0.9"/>
<line x1="563.00" y1="396.00" x2="552.90" y2="424.40" stroke="#2e2e30" stroke-width="0.9"/>
<line x1="563.00" y1="396.00" x2="554.90" y2="422.80" stroke="#2e2e30" stroke-width="0.9"/>
<line x1="563.00" y1="396.00" x2="565.80" y2="419.20" stroke="#2e2e30" stroke-width="0.9"/>
<line x1="563.00" y1="396.00" x2="569.70" y2="430.60" stroke="#2e2e30" stroke-width="0.9"/>
<line x1="563.00" y1="396.00" x2="572.80" y2="434.00" stroke="#2e2e30" stroke-width="0.9"/>
<line x1="563.00" y1="396.00" x2="613.20" y2="404.20" stroke="#2e2e30" stroke-width="0.9"/>
<line x1="563.00" y1="396.00" x2="652.00" y2="279.60" stroke="#2e2e30" stroke-width="0.9"/>
<circle cx="514.80" cy="365.90" r="1.7" fill="#2e2e30"/>
<circle cx="528.30" cy="381.70" r="1.7" fill="#2e2e30"/>
<circle cx="529.60" cy="383.50" r="1.7" fill="#2e2e30"/>
<circle cx="540.40" cy="398.50" r="1.7" fill="#2e2e30"/>
<circle cx="548.20" cy="415.10" r="1.7" fill="#2e2e30"/>
<circle cx="552.90" cy="424.40" r="1.7" fill="#2e2e30"/>
<circle cx="554.90" cy="422.80" r="1.7" fill="#2e2e30"/>
<circle cx="565.80" cy="419.20" r="1.7" fill="#2e2e30"/>
<circle cx="569.70" cy="430.60" r="1.7" fill="#2e2e30"/>
<circle cx="572.80" cy="434.00" r="1.7" fill="#2e2e30"/>
<circle cx="613.20" cy="404.20" r="1.7" fill="#2e2e30"/>
<circle cx="652.00" cy="279.60" r="1.7" fill="#2e2e30"/>
<line x1="608.00" y1="408.90" x2="563.20" y2="432.70" stroke="#9a3d9f" stroke-width="0.9"/>
<line x1="608.00" y1="408.90" x2="579.50" y2="433.50" stroke="#9a3d9f" stroke-width="0.9"/>
<line x1="608.00" y1="408.90" x2="589.60" y2="430.60" stroke="#9a3d9f" stroke-width="0.9"/>
<line x1="608.00" y1="408.90" x2="593.80" y2="427.00" stroke="#9a3d9f" stroke-width="0.9"/>
<line x1="608.00" y1="408.90" x2="610.60" y2="423.60" stroke="#9a3d9f" stroke-width="0.9"/>
<line x1="608.00" y1="408.90" x2="618.40" y2="414.00" stroke="#9a3d9f" stroke-width="0.9"/>
<line x1="608.00" y1="408.90" x2="623.50" y2="410.70" stroke="#9a3d9f" stroke-width="0.9"/>
<line x1="608.00" y1="408.90" x2="621.00" y2="406.30" stroke="#9a3d9f" stroke-width="0.9"/>
<line x1="608.00" y1="408.90" x2="627.90" y2="395.90" stroke="#9a3d9f" stroke-width="0.9"/>
<line x1="608.00" y1="408.90" x2="615.00" y2="393.80" stroke="#9a3d9f" stroke-width="0.9"/>
<line x1="608.00" y1="408.90" x2="647.60" y2="334.50" stroke="#9a3d9f" stroke-width="0.9"/>
<circle cx="563.20" cy="432.70" r="1.7" fill="#9a3d9f"/>
<circle cx="579.50" cy="433.50" r="1.7" fill="#9a3d9f"/>
<circle cx="589.60" cy="430.60" r="1.7" fill="#9a3d9f"/>
<circle cx="593.80" cy="427.00" r="1.7" fill="#9a3d9f"/>
<circle cx="610.60" cy="423.60" r="1.7" fill="#9a3d9f"/>
<circle cx="618.40" cy="414.00" r="1.7" fill="#9a3d9f"/>
<circle cx="623.50" cy="410.70" r="1.7" fill="#9a3d9f"/>
<circle cx="621.00" cy="406.30" r="1.7" fill="#9a3d9f"/>
<circle cx="627.90" cy="395.90" r="1.7" fill="#9a3d9f"/>
<circle cx="615.00" cy="393.80" r="1.7" fill="#9a3d9f"/>
<circle cx="647.60" cy="334.50" r="1.7" fill="#9a3d9f"/>
</g>
<circle cx="563.00" cy="396.00" r="4.6" fill="#3b3b3d"/>
<circle cx="559.30" cy="393.80" r="5.7" fill="#9c9c9c"/>
<circle cx="608.00" cy="408.90" r="5.7" fill="#9a3d9f"/>
<line x1="604.50" y1="408.80" x2="608.60" y2="409.90" stroke="#b9a0bd" stroke-width="0.7"/>
<rect x="502.60" y="271.50" width="157.20" height="170.40" fill="none" stroke="#3a3a3a" stroke-width="0.6"/>
<line x1="503.60" y1="441.90" x2="503.60" y2="444.20" stroke="#2a2a2a" stroke-width="0.7"/>
<text x="503.60" y="450.50" font-size="6.4" fill="#3c3c3c" text-anchor="middle">-0.4</text>
<line x1="540.30" y1="441.90" x2="540.30" y2="444.20" stroke="#2a2a2a" stroke-width="0.7"/>
<text x="540.30" y="450.50" font-size="6.4" fill="#3c3c3c" text-anchor="middle">-0.2</text>
<line x1="577.00" y1="441.90" x2="577.00" y2="444.20" stroke="#2a2a2a" stroke-width="0.7"/>
<text x="577.00" y="450.50" font-size="6.4" fill="#3c3c3c" text-anchor="middle">0.0</text>
<line x1="613.70" y1="441.90" x2="613.70" y2="444.20" stroke="#2a2a2a" stroke-width="0.7"/>
<text x="613.70" y="450.50" font-size="6.4" fill="#3c3c3c" text-anchor="middle">0.2</text>
<line x1="650.40" y1="441.90" x2="650.40" y2="444.20" stroke="#2a2a2a" stroke-width="0.7"/>
<text x="650.40" y="450.50" font-size="6.4" fill="#3c3c3c" text-anchor="middle">0.4</text>
<line x1="500.30" y1="299.50" x2="502.60" y2="299.50" stroke="#2a2a2a" stroke-width="0.7"/>
<text x="499.10" y="301.80" font-size="6.4" fill="#3c3c3c" text-anchor="end">0.3</text>
<line x1="500.30" y1="333.20" x2="502.60" y2="333.20" stroke="#2a2a2a" stroke-width="0.7"/>
<text x="499.10" y="335.50" font-size="6.4" fill="#3c3c3c" text-anchor="end">0.2</text>
<line x1="500.30" y1="366.90" x2="502.60" y2="366.90" stroke="#2a2a2a" stroke-width="0.7"/>
<text x="499.10" y="369.20" font-size="6.4" fill="#3c3c3c" text-anchor="end">0.1</text>
<line x1="500.30" y1="400.60" x2="502.60" y2="400.60" stroke="#2a2a2a" stroke-width="0.7"/>
<text x="499.10" y="402.90" font-size="6.4" fill="#3c3c3c" text-anchor="end">0.0</text>
<line x1="500.30" y1="434.30" x2="502.60" y2="434.30" stroke="#2a2a2a" stroke-width="0.7"/>
<text x="499.10" y="436.60" font-size="6.4" fill="#3c3c3c" text-anchor="end">-0.1</text>
<text x="580.80" y="459.20" font-size="8.0" fill="#1a1a1a" text-anchor="middle" textLength="60.80" lengthAdjust="spacingAndGlyphs">Axis1 ( 69.69 % )</text>
<text x="483.20" y="356.70" font-size="8.0" fill="#1a1a1a" text-anchor="middle" textLength="61.50" lengthAdjust="spacingAndGlyphs" transform="rotate(-90 483.20 356.70)">Axis2 ( 14.15 % )</text>
<circle cx="510.20" cy="279.60" r="4.1" fill="#9a3d9f"/>
<text x="516.60" y="283.00" font-size="7.8" fill="#1a1617" textLength="34.60" lengthAdjust="spacingAndGlyphs">HFD+Lyso</text>
<circle cx="510.20" cy="290.10" r="4.1" fill="#3b3b3d"/>
<text x="516.60" y="293.50" font-size="7.8" fill="#1a1617" textLength="44.00" lengthAdjust="spacingAndGlyphs">HFD+Vehicle</text>
<circle cx="510.20" cy="300.60" r="4.1" fill="#9c9c9c"/>
<text x="516.60" y="304.00" font-size="7.8" fill="#1a1617" textLength="42.20" lengthAdjust="spacingAndGlyphs">LFD+Vehicle</text>
</svg>
</body></html>
